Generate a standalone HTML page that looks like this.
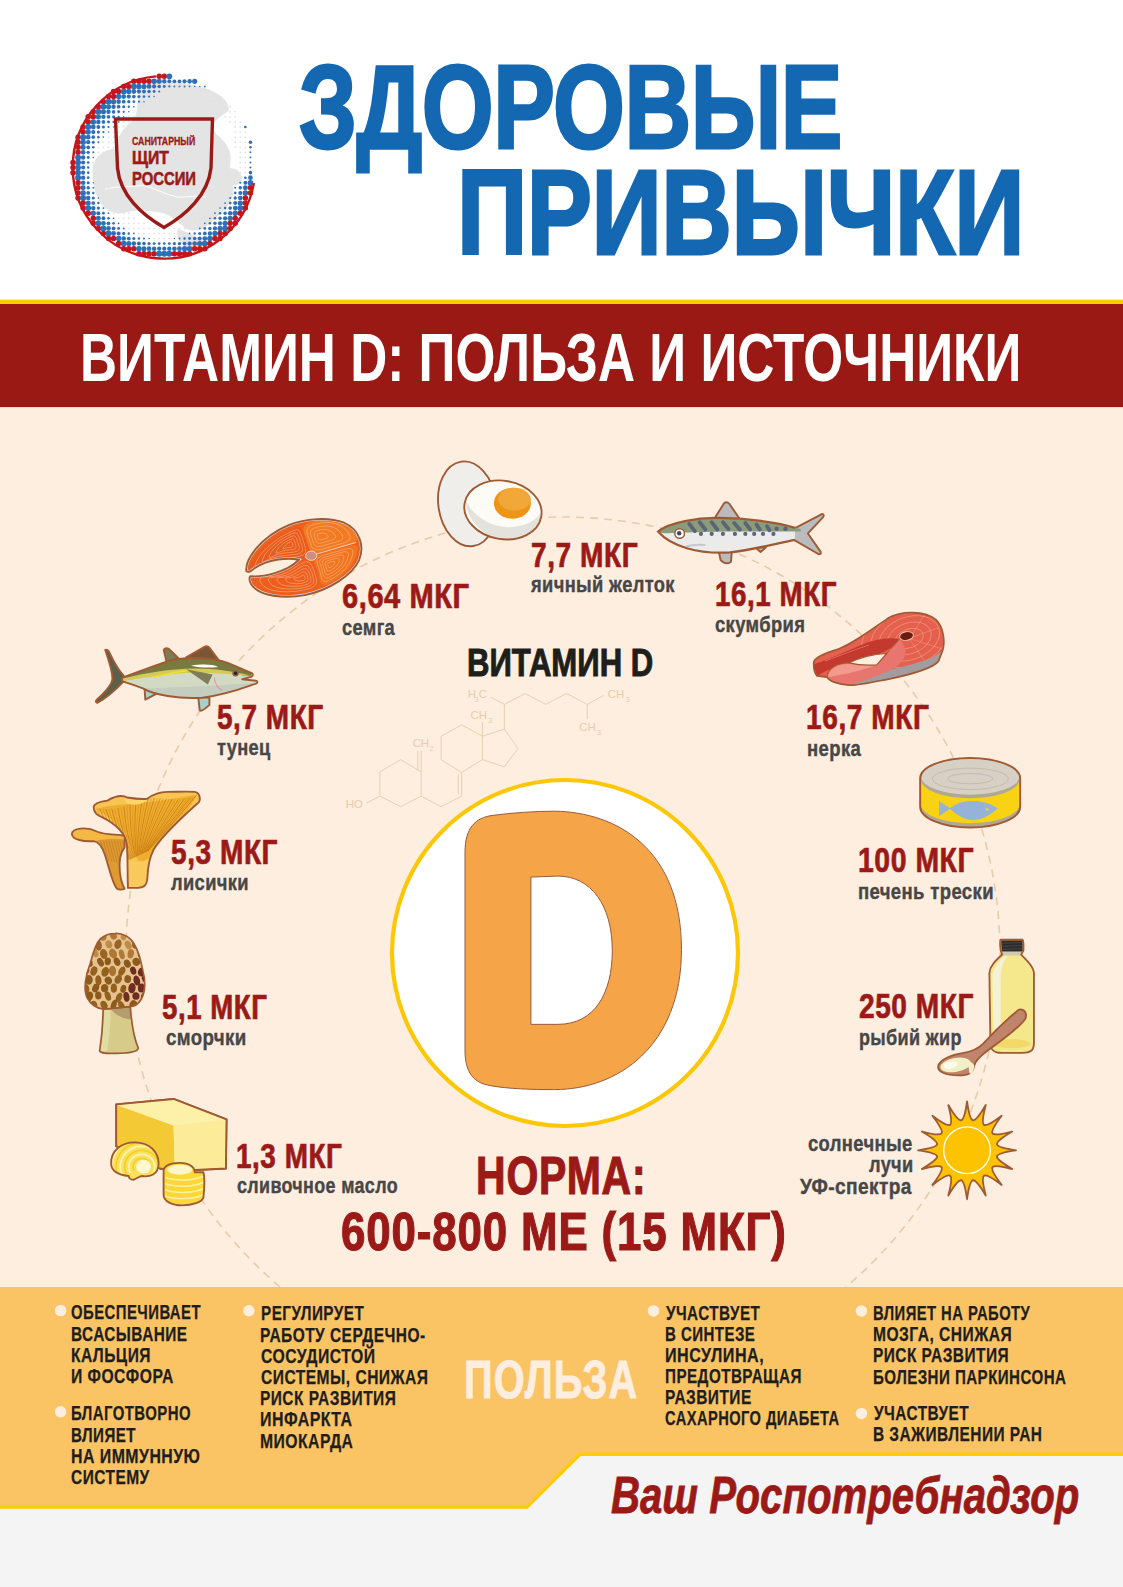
<!DOCTYPE html>
<html><head><meta charset="utf-8"><style>
html,body{margin:0;padding:0;}
body{width:1123px;height:1587px;position:relative;overflow:hidden;background:#ffffff;font-family:"Liberation Sans",sans-serif;}
.t{position:absolute;white-space:pre;transform-origin:0 0;}
svg{position:absolute;left:0;top:0;}
</style></head><body>
<svg width="1123" height="1587" viewBox="0 0 1123 1587">
<rect x="0" y="0" width="1123" height="1587" fill="#f4f4f4"/>
<rect x="0" y="0" width="1123" height="300" fill="#ffffff"/>
<rect x="0" y="299.6" width="1123" height="4.4" fill="#ffcc05"/>
<rect x="0" y="304" width="1123" height="103.3" fill="#9b1915"/>
<rect x="0" y="407.3" width="1123" height="880" fill="#fdeee0"/>
<circle cx="563" cy="954" r="437" fill="none" stroke="#e8cba8" stroke-width="1.6" stroke-dasharray="8 6"/>
<polygon points="0,1287 1123,1287 1123,1454.2 580,1454.2 527,1507 0,1507" fill="#fac364"/>
<polyline points="1123,1454.2 580,1454.2 527,1507 0,1507" fill="none" stroke="#ffcc05" stroke-width="3.5"/>
<circle cx="60.6" cy="1310.6" r="5.75" fill="#fdeee0"/><circle cx="60.6" cy="1411.7" r="5.75" fill="#fdeee0"/><circle cx="248.9" cy="1310.7" r="5.75" fill="#fdeee0"/><circle cx="653.5" cy="1310.9" r="5.75" fill="#fdeee0"/><circle cx="861.4" cy="1311" r="5.75" fill="#fdeee0"/><circle cx="861.4" cy="1413.4" r="5.75" fill="#fdeee0"/>
<circle cx="565" cy="953" r="173" fill="#ffffff" stroke="#fcc707" stroke-width="4.2"/><g transform="translate(380,770) scale(0.32947)"><path fill-rule="evenodd" fill="#f5a447" stroke="#96593a" stroke-width="3" d="M258,250 C258,175 290,145 340,138 C400,130 470,125 530,125 C720,128 915,240 915,545 C915,840 720,970 530,970 C460,970 390,968 335,958 C285,950 258,920 258,850 Z M458,325 L458,772 L540,772 C650,772 705,680 705,548 C705,410 640,322 540,322 Z"/></g><g transform="translate(330,675) scale(0.28495)"><polyline fill="none" stroke="#e7cbab" stroke-width="3.2" stroke-linejoin="round" points="175,340 248,297 320,340 320,425 248,462 175,425 175,340"/><polyline fill="none" stroke="#e7cbab" stroke-width="3.2" stroke-linejoin="round" points="175,425 128,450"/><polyline fill="none" stroke="#e7cbab" stroke-width="3.2" stroke-linejoin="round" points="320,340 320,265"/><polyline fill="none" stroke="#e7cbab" stroke-width="3.2" stroke-linejoin="round" points="308,335 308,265"/><polyline fill="none" stroke="#e7cbab" stroke-width="3.2" stroke-linejoin="round" points="320,425 390,462 462,425 462,342"/><polyline fill="none" stroke="#e7cbab" stroke-width="3.2" stroke-linejoin="round" points="450,420 450,348"/><polyline fill="none" stroke="#e7cbab" stroke-width="3.2" stroke-linejoin="round" points="462,342 390,297 390,215 462,175 535,215 535,297 462,342"/><polyline fill="none" stroke="#e7cbab" stroke-width="3.2" stroke-linejoin="round" points="535,215 612,190 660,258 612,322 535,297"/><polyline fill="none" stroke="#e7cbab" stroke-width="3.2" stroke-linejoin="round" points="535,215 535,165"/><polyline fill="none" stroke="#e7cbab" stroke-width="3.2" stroke-linejoin="round" points="612,190 612,103 565,78"/><polyline fill="none" stroke="#e7cbab" stroke-width="3.2" stroke-linejoin="round" points="612,103 685,65 757,103 830,65 903,103 960,72"/><polyline fill="none" stroke="#e7cbab" stroke-width="3.2" stroke-linejoin="round" points="903,103 903,155"/><text x="55" y="468" font-family="Liberation Sans" font-size="40" fill="#e7cbab">HO</text><text x="290" y="252" font-family="Liberation Sans" font-size="40" fill="#e7cbab">CH</text><text x="350" y="268" font-family="Liberation Sans" font-size="24" fill="#e7cbab">2</text><text x="493" y="155" font-family="Liberation Sans" font-size="40" fill="#e7cbab">CH</text><text x="555" y="170" font-family="Liberation Sans" font-size="24" fill="#e7cbab">3</text><text x="483" y="80" font-family="Liberation Sans" font-size="40" fill="#e7cbab">H</text><text x="508" y="95" font-family="Liberation Sans" font-size="24" fill="#e7cbab">3</text><text x="522" y="80" font-family="Liberation Sans" font-size="40" fill="#e7cbab">C</text><text x="975" y="80" font-family="Liberation Sans" font-size="40" fill="#e7cbab">CH</text><text x="1038" y="95" font-family="Liberation Sans" font-size="24" fill="#e7cbab">3</text><text x="875" y="195" font-family="Liberation Sans" font-size="40" fill="#e7cbab">CH</text><text x="938" y="210" font-family="Liberation Sans" font-size="24" fill="#e7cbab">3</text></g><g transform="translate(910,1095) scale(0.10240)"><path d="M557.0,62.0 Q580.8,237.0 615.1,247.7 Q650.9,250.9 739.9,98.4 Q695.0,269.2 722.6,292.2 Q754.4,308.9 895.0,202.0 Q788.1,342.6 804.8,374.4 Q827.8,402.0 998.6,357.1 Q846.1,446.1 849.3,481.9 Q860.0,516.2 1035.0,540.0 Q860.0,563.8 849.3,598.1 Q846.1,633.9 998.6,722.9 Q827.8,678.0 804.8,705.6 Q788.1,737.4 895.0,878.0 Q754.4,771.1 722.6,787.8 Q695.0,810.8 739.9,981.6 Q650.9,829.1 615.1,832.3 Q580.8,843.0 557.0,1018.0 Q533.2,843.0 498.9,832.3 Q463.1,829.1 374.1,981.6 Q419.0,810.8 391.4,787.8 Q359.6,771.1 219.0,878.0 Q325.9,737.4 309.2,705.6 Q286.2,678.0 115.4,722.9 Q267.9,633.9 264.7,598.1 Q254.0,563.8 79.0,540.0 Q254.0,516.2 264.7,481.9 Q267.9,446.1 115.4,357.1 Q286.2,402.0 309.2,374.4 Q325.9,342.6 219.0,202.0 Q359.6,308.9 391.4,292.2 Q419.0,269.2 374.1,98.4 Q463.1,250.9 498.9,247.7 Q533.2,237.0 557.0,62.0 Z" fill="#fdc300" stroke="#9f5a33" stroke-width="18" stroke-linejoin="round"/><circle cx="557" cy="540" r="228" fill="#fdc300" stroke="#ffffff" stroke-width="13"/></g><g transform="translate(240,510) scale(0.11576)"><clipPath id="semgaclip"><path d="M55,530 C40,430 180,230 420,130 C560,75 760,55 900,110 C1040,170 1075,320 1030,430 C970,560 780,690 560,735 C370,770 180,740 110,660 C80,625 75,585 90,572 C200,580 400,540 510,430 C420,410 250,420 130,500 C100,525 75,545 55,530 Z"/></clipPath><path d="M55,530 C40,430 180,230 420,130 C560,75 760,55 900,110 C1040,170 1075,320 1030,430 C970,560 780,690 560,735 C370,770 180,740 110,660 C80,625 75,585 90,572 C200,580 400,540 510,430 C420,410 250,420 130,500 C100,525 75,545 55,530 Z" fill="#ee611d"/><g clip-path="url(#semgaclip)"><path d="M95.0,520.0 Q60.0,540.0 80.0,485.0 Q100.0,430.0 150.0,375.0 Q200.0,320.0 265.0,270.0 Q330.0,220.0 400.0,185.0 Q470.0,150.0 500.0,145.0 Q530.0,140.0 550.0,200.0 Q570.0,260.0 590.0,325.0 Q610.0,390.0 560.0,411.0 Q510.0,432.0 405.0,436.0 Q300.0,440.0 215.0,470.0 Q130.0,500.0 95.0,520.0 Z" fill="#ec5a1b"/><path d="M150.8,483.3 Q121.7,500.0 138.3,454.2 Q155.0,408.3 196.7,362.5 Q238.3,316.7 292.5,275.0 Q346.7,233.3 405.0,204.2 Q463.3,175.0 488.3,170.8 Q513.3,166.7 530.0,216.7 Q546.7,266.7 563.3,320.8 Q580.0,375.0 538.3,392.5 Q496.7,410.0 409.2,413.3 Q321.7,416.7 250.8,441.7 Q180.0,466.7 150.8,483.3 Z" fill="none" stroke="#fbcaa3" stroke-width="4.5" opacity="0.9"/><path d="M206.7,446.7 Q183.3,460.0 196.7,423.3 Q210.0,386.7 243.3,350.0 Q276.7,313.3 320.0,280.0 Q363.3,246.7 410.0,223.3 Q456.7,200.0 476.7,196.7 Q496.7,193.3 510.0,233.3 Q523.3,273.3 536.7,316.7 Q550.0,360.0 516.7,374.0 Q483.3,388.0 413.3,390.7 Q343.3,393.3 286.7,413.3 Q230.0,433.3 206.7,446.7 Z" fill="none" stroke="#fbcaa3" stroke-width="4.5" opacity="0.9"/><path d="M262.5,410.0 Q245.0,420.0 255.0,392.5 Q265.0,365.0 290.0,337.5 Q315.0,310.0 347.5,285.0 Q380.0,260.0 415.0,242.5 Q450.0,225.0 465.0,222.5 Q480.0,220.0 490.0,250.0 Q500.0,280.0 510.0,312.5 Q520.0,345.0 495.0,355.5 Q470.0,366.0 417.5,368.0 Q365.0,370.0 322.5,385.0 Q280.0,400.0 262.5,410.0 Z" fill="none" stroke="#fbcaa3" stroke-width="4.5" opacity="0.9"/><path d="M318.3,373.3 Q306.7,380.0 313.3,361.7 Q320.0,343.3 336.7,325.0 Q353.3,306.7 375.0,290.0 Q396.7,273.3 420.0,261.7 Q443.3,250.0 453.3,248.3 Q463.3,246.7 470.0,266.7 Q476.7,286.7 483.3,308.3 Q490.0,330.0 473.3,337.0 Q456.7,344.0 421.7,345.3 Q386.7,346.7 358.3,356.7 Q330.0,366.7 318.3,373.3 Z" fill="none" stroke="#fbcaa3" stroke-width="4.5" opacity="0.9"/><path d="M374.2,336.7 Q368.3,340.0 371.7,330.8 Q375.0,321.7 383.3,312.5 Q391.7,303.3 402.5,295.0 Q413.3,286.7 425.0,280.8 Q436.7,275.0 441.7,274.2 Q446.7,273.3 450.0,283.3 Q453.3,293.3 456.7,304.2 Q460.0,315.0 451.7,318.5 Q443.3,322.0 425.8,322.7 Q408.3,323.3 394.2,328.3 Q380.0,333.3 374.2,336.7 Z" fill="none" stroke="#fbcaa3" stroke-width="4.5" opacity="0.9"/><path d="M552.5,202.5 Q530.0,140.0 590.0,112.5 Q650.0,85.0 725.0,77.5 Q800.0,70.0 865.0,92.5 Q930.0,115.0 970.0,157.5 Q1010.0,200.0 1015.0,240.0 Q1020.0,280.0 910.0,310.0 Q800.0,340.0 707.5,366.0 Q615.0,392.0 595.0,328.5 Q575.0,265.0 552.5,202.5 Z" fill="#f27a23"/><path d="M582.0,208.0 Q564.0,158.0 612.0,136.0 Q660.0,114.0 720.0,108.0 Q780.0,102.0 832.0,120.0 Q884.0,138.0 916.0,172.0 Q948.0,206.0 952.0,238.0 Q956.0,270.0 868.0,294.0 Q780.0,318.0 706.0,338.8 Q632.0,359.6 616.0,308.8 Q600.0,258.0 582.0,208.0 Z" fill="none" stroke="#fbcaa3" stroke-width="4.5" opacity="0.9"/><path d="M611.5,213.5 Q598.0,176.0 634.0,159.5 Q670.0,143.0 715.0,138.5 Q760.0,134.0 799.0,147.5 Q838.0,161.0 862.0,186.5 Q886.0,212.0 889.0,236.0 Q892.0,260.0 826.0,278.0 Q760.0,296.0 704.5,311.6 Q649.0,327.2 637.0,289.1 Q625.0,251.0 611.5,213.5 Z" fill="none" stroke="#fbcaa3" stroke-width="4.5" opacity="0.9"/><path d="M641.0,219.0 Q632.0,194.0 656.0,183.0 Q680.0,172.0 710.0,169.0 Q740.0,166.0 766.0,175.0 Q792.0,184.0 808.0,201.0 Q824.0,218.0 826.0,234.0 Q828.0,250.0 784.0,262.0 Q740.0,274.0 703.0,284.4 Q666.0,294.8 658.0,269.4 Q650.0,244.0 641.0,219.0 Z" fill="none" stroke="#fbcaa3" stroke-width="4.5" opacity="0.9"/><path d="M670.5,224.5 Q666.0,212.0 678.0,206.5 Q690.0,201.0 705.0,199.5 Q720.0,198.0 733.0,202.5 Q746.0,207.0 754.0,215.5 Q762.0,224.0 763.0,232.0 Q764.0,240.0 742.0,246.0 Q720.0,252.0 701.5,257.2 Q683.0,262.4 679.0,249.7 Q675.0,237.0 670.5,224.5 Z" fill="none" stroke="#fbcaa3" stroke-width="4.5" opacity="0.9"/><path d="M645.0,460.0 Q620.0,400.0 720.0,372.5 Q820.0,345.0 920.0,315.0 Q1020.0,285.0 1015.0,342.5 Q1010.0,400.0 975.0,460.0 Q940.0,520.0 880.0,565.0 Q820.0,610.0 760.0,640.0 Q700.0,670.0 685.0,595.0 Q670.0,520.0 645.0,460.0 Z" fill="#f2741f"/><path d="M667.5,461.7 Q646.7,411.7 730.0,388.8 Q813.3,365.8 896.7,340.8 Q980.0,315.8 975.8,363.8 Q971.7,411.7 942.5,461.7 Q913.3,511.7 863.3,549.2 Q813.3,586.7 763.3,611.7 Q713.3,636.7 700.8,574.2 Q688.3,511.7 667.5,461.7 Z" fill="none" stroke="#fbcaa3" stroke-width="4.5" opacity="0.9"/><path d="M690.0,463.3 Q673.3,423.3 740.0,405.0 Q806.7,386.7 873.3,366.7 Q940.0,346.7 936.7,385.0 Q933.3,423.3 910.0,463.3 Q886.7,503.3 846.7,533.3 Q806.7,563.3 766.7,583.3 Q726.7,603.3 716.7,553.3 Q706.7,503.3 690.0,463.3 Z" fill="none" stroke="#fbcaa3" stroke-width="4.5" opacity="0.9"/><path d="M712.5,465.0 Q700.0,435.0 750.0,421.2 Q800.0,407.5 850.0,392.5 Q900.0,377.5 897.5,406.2 Q895.0,435.0 877.5,465.0 Q860.0,495.0 830.0,517.5 Q800.0,540.0 770.0,555.0 Q740.0,570.0 732.5,532.5 Q725.0,495.0 712.5,465.0 Z" fill="none" stroke="#fbcaa3" stroke-width="4.5" opacity="0.9"/><path d="M735.0,466.7 Q726.7,446.7 760.0,437.5 Q793.3,428.3 826.7,418.3 Q860.0,408.3 858.3,427.5 Q856.7,446.7 845.0,466.7 Q833.3,486.7 813.3,501.7 Q793.3,516.7 773.3,526.7 Q753.3,536.7 748.3,511.7 Q743.3,486.7 735.0,466.7 Z" fill="none" stroke="#fbcaa3" stroke-width="4.5" opacity="0.9"/><path d="M757.5,468.3 Q753.3,458.3 770.0,453.8 Q786.7,449.2 803.3,444.2 Q820.0,439.2 819.2,448.8 Q818.3,458.3 812.5,468.3 Q806.7,478.3 796.7,485.8 Q786.7,493.3 776.7,498.3 Q766.7,503.3 764.2,490.8 Q761.7,478.3 757.5,468.3 Z" fill="none" stroke="#fbcaa3" stroke-width="4.5" opacity="0.9"/><path d="M97.5,612.5 Q90.0,575.0 170.0,575.0 Q250.0,575.0 325.0,550.0 Q400.0,525.0 457.5,482.5 Q515.0,440.0 563.5,422.5 Q612.0,405.0 638.5,462.5 Q665.0,520.0 682.5,592.5 Q700.0,665.0 630.0,690.0 Q560.0,715.0 470.0,725.0 Q380.0,735.0 290.0,725.0 Q200.0,715.0 152.5,682.5 Q105.0,650.0 97.5,612.5 Z" fill="#ee5e1c"/><path d="M171.2,608.8 Q165.0,577.5 231.7,577.5 Q298.3,577.5 360.8,556.7 Q423.3,535.8 471.2,500.4 Q519.2,465.0 559.6,450.4 Q600.0,435.8 622.1,483.8 Q644.2,531.7 658.8,592.1 Q673.3,652.5 615.0,673.3 Q556.7,694.2 481.7,702.5 Q406.7,710.8 331.7,702.5 Q256.7,694.2 217.1,667.1 Q177.5,640.0 171.2,608.8 Z" fill="none" stroke="#fbcaa3" stroke-width="4.5" opacity="0.9"/><path d="M245.0,605.0 Q240.0,580.0 293.3,580.0 Q346.7,580.0 396.7,563.3 Q446.7,546.7 485.0,518.3 Q523.3,490.0 555.7,478.3 Q588.0,466.7 605.7,505.0 Q623.3,543.3 635.0,591.7 Q646.7,640.0 600.0,656.7 Q553.3,673.3 493.3,680.0 Q433.3,686.7 373.3,680.0 Q313.3,673.3 281.7,651.7 Q250.0,630.0 245.0,605.0 Z" fill="none" stroke="#fbcaa3" stroke-width="4.5" opacity="0.9"/><path d="M318.8,601.2 Q315.0,582.5 355.0,582.5 Q395.0,582.5 432.5,570.0 Q470.0,557.5 498.8,536.2 Q527.5,515.0 551.8,506.2 Q576.0,497.5 589.2,526.2 Q602.5,555.0 611.2,591.2 Q620.0,627.5 585.0,640.0 Q550.0,652.5 505.0,657.5 Q460.0,662.5 415.0,657.5 Q370.0,652.5 346.2,636.2 Q322.5,620.0 318.8,601.2 Z" fill="none" stroke="#fbcaa3" stroke-width="4.5" opacity="0.9"/><path d="M392.5,597.5 Q390.0,585.0 416.7,585.0 Q443.3,585.0 468.3,576.7 Q493.3,568.3 512.5,554.2 Q531.7,540.0 547.8,534.2 Q564.0,528.3 572.8,547.5 Q581.7,566.7 587.5,590.8 Q593.3,615.0 570.0,623.3 Q546.7,631.7 516.7,635.0 Q486.7,638.3 456.7,635.0 Q426.7,631.7 410.8,620.8 Q395.0,610.0 392.5,597.5 Z" fill="none" stroke="#fbcaa3" stroke-width="4.5" opacity="0.9"/><path d="M466.2,593.8 Q465.0,587.5 478.3,587.5 Q491.7,587.5 504.2,583.3 Q516.7,579.2 526.2,572.1 Q535.8,565.0 543.9,562.1 Q552.0,559.2 556.4,568.8 Q560.8,578.3 563.8,590.4 Q566.7,602.5 555.0,606.7 Q543.3,610.8 528.3,612.5 Q513.3,614.2 498.3,612.5 Q483.3,610.8 475.4,605.4 Q467.5,600.0 466.2,593.8 Z" fill="none" stroke="#fbcaa3" stroke-width="4.5" opacity="0.9"/></g><path d="M560,410 L1000,280" stroke="#f9cbb8" stroke-width="9"/><ellipse cx="615" cy="395" rx="48" ry="40" fill="#cf8f80" stroke="#f9d9c8" stroke-width="8"/><path d="M55,530 C40,430 180,230 420,130 C560,75 760,55 900,110 C1040,170 1075,320 1030,430 C970,560 780,690 560,735 C370,770 180,740 110,660 C80,625 75,585 90,572 C200,580 400,540 510,430 C420,410 250,420 130,500 C100,525 75,545 55,530 Z" fill="none" stroke="#d3dbe6" stroke-width="26" clip-path="url(#semgaclip)"/><path d="M55,530 C40,430 180,230 420,130 C560,75 760,55 900,110 C1040,170 1075,320 1030,430 C970,560 780,690 560,735 C370,770 180,740 110,660 C80,625 75,585 90,572 C200,580 400,540 510,430 C420,410 250,420 130,500 C100,525 75,545 55,530 Z" fill="none" stroke="#9f5a33" stroke-width="16" stroke-linejoin="round"/></g><g transform="translate(430,450) scale(0.11576)"><ellipse cx="322" cy="465" rx="250" ry="368" transform="rotate(-8 322 465)" fill="#efeeea" stroke="#9f5a33" stroke-width="16"/><ellipse cx="630" cy="518" rx="336" ry="252" transform="rotate(10 630 518)" fill="#fdfbf5"/><path d="M300,420 C360,560 520,680 720,665 C830,655 920,610 955,540 C960,620 880,760 690,775 C500,780 330,650 300,420 Z" fill="#e4e2dc"/><ellipse cx="630" cy="518" rx="336" ry="252" transform="rotate(10 630 518)" fill="none" stroke="#9f5a33" stroke-width="16"/><ellipse cx="712" cy="460" rx="160" ry="133" fill="#ec9516"/><ellipse cx="730" cy="425" rx="140" ry="98" fill="#f1a838"/></g><g transform="translate(650,495) scale(0.16028)"><path d="M890,215 L1075,118 Q1090,122 1080,138 L985,240 L1065,355 Q1070,372 1050,368 L890,275 Z" fill="#b9bbbf" stroke="#9f5a33" stroke-width="12" stroke-linejoin="round"/><path d="M400,150 L462,52 Q478,38 495,55 L560,150 Z" fill="#b9bbbf" stroke="#9f5a33" stroke-width="12" stroke-linejoin="round"/><path d="M430,355 L440,405 Q470,440 505,418 L510,355 Z" fill="#b9bbbf" stroke="#9f5a33" stroke-width="12" stroke-linejoin="round"/><path d="M660,330 L690,356 L725,325 Z" fill="#b9bbbf" stroke="#9f5a33" stroke-width="12" stroke-linejoin="round"/><path d="M50,228 C120,170 300,140 430,143 C600,145 800,170 905,205 L905,280 C800,300 650,340 500,358 C300,370 130,320 50,228 Z" fill="#ebebec"/><path d="M55,225 C120,172 300,143 430,146 C600,148 800,172 940,212 L940,228 C700,228 400,226 160,236 C110,240 80,240 55,232 Z" fill="#8c9c7b"/><line x1="245" y1="180" x2="280" y2="225" stroke="#5a6678" stroke-width="24" stroke-linecap="round"/><line x1="310" y1="170" x2="345" y2="215" stroke="#5a6678" stroke-width="24" stroke-linecap="round"/><line x1="385" y1="170" x2="420" y2="215" stroke="#5a6678" stroke-width="24" stroke-linecap="round"/><line x1="455" y1="170" x2="490" y2="212" stroke="#5a6678" stroke-width="24" stroke-linecap="round"/><line x1="525" y1="175" x2="560" y2="215" stroke="#5a6678" stroke-width="24" stroke-linecap="round"/><line x1="595" y1="175" x2="625" y2="215" stroke="#5a6678" stroke-width="24" stroke-linecap="round"/><line x1="665" y1="185" x2="685" y2="215" stroke="#5a6678" stroke-width="24" stroke-linecap="round"/><line x1="730" y1="195" x2="745" y2="220" stroke="#5a6678" stroke-width="24" stroke-linecap="round"/><circle cx="790" cy="210" r="14" fill="#5a6678"/><circle cx="845" cy="210" r="14" fill="#5a6678"/><circle cx="318" cy="243" r="13" fill="#5a6678"/><circle cx="385" cy="243" r="13" fill="#5a6678"/><circle cx="455" cy="243" r="13" fill="#5a6678"/><circle cx="530" cy="243" r="13" fill="#5a6678"/><circle cx="595" cy="243" r="13" fill="#5a6678"/><circle cx="650" cy="243" r="13" fill="#5a6678"/><circle cx="705" cy="243" r="13" fill="#5a6678"/><circle cx="770" cy="243" r="13" fill="#5a6678"/><path d="M230,320 C260,312 300,308 340,312" stroke="#c3c7cf" stroke-width="12" fill="none" stroke-linecap="round"/><path d="M905,280 C800,300 650,340 500,358 C300,370 130,320 50,228 C120,170 300,140 430,143 C600,145 800,170 905,205" fill="none" stroke="#9f5a33" stroke-width="14"/><circle cx="185" cy="240" r="30" fill="#ffffff" stroke="#9f5a33" stroke-width="9"/><circle cx="182" cy="238" r="14" fill="#3e4a5e"/></g><g transform="translate(805,605) scale(0.13357)"><clipPath id="nerkaclip"><path d="M65,440 C60,400 120,370 220,340 C350,300 500,180 620,100 C720,40 900,40 980,110 C1040,170 1050,280 1030,340 L1000,420 C960,470 800,520 600,560 C450,590 380,605 330,600 C250,595 180,570 165,540 L90,530 C70,510 65,470 65,440 Z"/></clipPath><path d="M65,440 C60,400 120,370 220,340 C350,300 500,180 620,100 C720,40 900,40 980,110 C1040,170 1050,280 1030,340 L1000,420 C960,470 800,520 600,560 C450,590 380,605 330,600 C250,595 180,570 165,540 L90,530 C70,510 65,470 65,440 Z" fill="#e5604e"/><g clip-path="url(#nerkaclip)"><ellipse cx="780" cy="250" rx="110" ry="70" transform="rotate(-20 780 250)" fill="none" stroke="#f7c3a4" stroke-width="4" opacity="0.75"/><ellipse cx="780" cy="250" rx="170" ry="115" transform="rotate(-20 780 250)" fill="none" stroke="#f7c3a4" stroke-width="4" opacity="0.75"/><ellipse cx="780" cy="250" rx="235" ry="160" transform="rotate(-20 780 250)" fill="none" stroke="#f7c3a4" stroke-width="4" opacity="0.75"/><ellipse cx="780" cy="250" rx="300" ry="205" transform="rotate(-20 780 250)" fill="none" stroke="#f7c3a4" stroke-width="4" opacity="0.75"/><ellipse cx="780" cy="250" rx="370" ry="250" transform="rotate(-20 780 250)" fill="none" stroke="#f7c3a4" stroke-width="4" opacity="0.75"/><path d="M780,250 L900,70" stroke="#f7c3a4" stroke-width="4" opacity="0.6"/><path d="M780,250 L1000,170" stroke="#f7c3a4" stroke-width="4" opacity="0.6"/><path d="M780,250 L1030,330" stroke="#f7c3a4" stroke-width="4" opacity="0.6"/><path d="M780,250 L930,470" stroke="#f7c3a4" stroke-width="4" opacity="0.6"/><path d="M330,600 C450,590 600,560 800,515 C900,490 980,455 1000,420 L1035,330 C990,390 900,420 700,470 C550,505 420,545 330,600 Z" fill="#a39c9e"/><path d="M60,445 C140,425 300,352 420,300 C520,258 620,240 705,255 C660,320 600,355 540,368 C470,385 400,405 330,432 C250,455 170,480 90,532 Z" fill="#c4392d"/><path d="M150,420 C260,380 380,330 480,300" stroke="#f29683" stroke-width="5" fill="none" opacity="0.8"/><path d="M165,542 C170,470 240,432 330,434 L535,449 C580,420 640,330 705,258 C760,300 775,380 705,445 C640,500 500,545 330,602 C250,597 180,572 165,542 Z" fill="#e8756e"/><path d="M172,535 C185,475 250,442 330,442 L520,455 C440,485 300,520 172,540 Z" fill="#f39a8d"/></g><path d="M330,433 C420,388 520,368 612,362 L537,449 C450,454 380,446 330,433 Z" fill="#fdeee0" stroke="#9f5a33" stroke-width="9" stroke-linejoin="round"/><path d="M165,542 C170,470 240,432 330,434" fill="none" stroke="#9f5a33" stroke-width="7"/><path d="M612,362 C640,330 680,290 705,258" fill="none" stroke="#9f5a33" stroke-width="6"/><ellipse cx="760" cy="232" rx="52" ry="32" transform="rotate(-10 760 232)" fill="#6b1a14" stroke="#f6c7a6" stroke-width="7"/><path d="M65,440 C60,400 120,370 220,340 C350,300 500,180 620,100 C720,40 900,40 980,110 C1040,170 1050,280 1030,340 L1000,420 C960,470 800,520 600,560 C450,590 380,605 330,600 C250,595 180,570 165,540 L90,530 C70,510 65,470 65,440 Z" fill="none" stroke="#9f5a33" stroke-width="13" stroke-linejoin="round"/></g><g transform="translate(90,640) scale(0.16028)"><path d="M95,62 Q112,58 122,80 C150,140 180,190 210,222 L210,258 C170,300 110,360 45,392 Q28,385 45,370 C100,320 140,270 140,240 C140,190 115,120 95,62 Z" fill="#5b6148" stroke="#9f5a33" stroke-width="12" stroke-linejoin="round"/><path d="M460,62 Q470,45 492,56 L552,114 L478,138 Z" fill="#7b7d55" stroke="#9f5a33" stroke-width="12" stroke-linejoin="round"/><path d="M600,108 L720,40 Q737,34 748,52 L805,128 Z" fill="#7a5634" stroke="#9f5a33" stroke-width="12" stroke-linejoin="round"/><path d="M340,298 L345,372 L425,330 Z" fill="#a9cfc8" stroke="#9f5a33" stroke-width="12" stroke-linejoin="round"/><path d="M675,355 L685,440 Q700,448 745,405 L745,360 Z" fill="#a9cfc8" stroke="#9f5a33" stroke-width="12" stroke-linejoin="round"/><path d="M200,235 C300,200 420,150 520,122 C650,102 800,112 900,160 L1012,208 Q1022,220 1005,230 L950,245 L1040,255 Q1050,266 1035,272 C950,302 850,342 700,360 C550,370 400,342 330,302 C280,282 230,267 200,257 Z" fill="#d3dac4"/><path d="M330,302 C450,300 600,290 750,285 C850,282 950,270 1035,270 C950,302 850,342 700,360 C550,370 400,342 330,302 Z" fill="#c5cdbe"/><path d="M200,235 C300,200 420,150 520,122 C650,102 800,112 900,160 L1012,208 L1000,225 C900,215 800,200 680,195 C500,190 330,220 200,252 Z" fill="#7a7a3f"/><path d="M205,240 C350,205 500,180 650,178 C780,178 900,195 1000,222 C900,218 780,205 650,205 C500,205 350,235 205,258 Z" fill="#d6c95a"/><path d="M400,232 C460,215 540,200 600,192" stroke="#f2e21a" stroke-width="10" fill="none" stroke-linecap="round"/><path d="M630,160 C700,150 760,150 800,168 C740,176 680,172 630,160 Z" fill="#ffffff"/><path d="M600,182 L765,215 L735,278 Z" fill="#7d7d59"/><path d="M775,235 Q780,290 825,315" stroke="#e89a92" stroke-width="7" fill="none"/><path d="M200,235 C300,200 420,150 520,122 C650,102 800,112 900,160 L1012,208 Q1022,220 1005,230 L950,245 L1040,255 Q1050,266 1035,272 C950,302 850,342 700,360 C550,370 400,342 330,302 C280,282 230,267 200,257 Z" fill="none" stroke="#9f5a33" stroke-width="12" stroke-linejoin="round"/><circle cx="908" cy="208" r="20" fill="#a25a3a"/><circle cx="908" cy="208" r="11" fill="#1f2633"/></g><g transform="translate(910,750) scale(0.10686)"><ellipse cx="563" cy="530" rx="467" ry="195" fill="#b0a897"/><path d="M100,270 L100,505 A463,180 0 0 0 1026,505 L1026,270 Z" fill="#f9d213"/><ellipse cx="563" cy="272" rx="463" ry="180" fill="#b0a897"/><ellipse cx="563" cy="248" rx="460" ry="170" fill="#d7d0c4"/><ellipse cx="565" cy="270" rx="355" ry="100" fill="none" stroke="#b3a892" stroke-width="5"/><ellipse cx="563" cy="268" rx="210" ry="48" fill="none" stroke="#b3a892" stroke-width="5"/><path d="M372,548 C430,500 500,478 590,478 C700,478 780,520 822,548 C780,580 700,655 590,655 C500,655 430,600 372,548 Z" fill="#95b2d8"/><path d="M272,478 L380,548 L272,618 Z" fill="#95b2d8"/><circle cx="722" cy="555" r="13" fill="#f9d213"/><path d="M95,265 A468,190 0 0 1 1031,265 L1031,530 A468,195 0 0 1 95,530 Z" fill="none" stroke="#9f5a33" stroke-width="18"/></g><g transform="translate(65,785) scale(0.12467)"><clipPath id="chsmall"><path d="M55,395 C55,345 170,330 260,375 C320,400 420,395 480,408 L478,500 C445,540 432,620 440,700 C447,760 465,810 478,832 C462,842 430,842 415,830 C380,790 350,650 320,560 C300,500 270,455 230,450 C150,455 60,440 55,395 Z"/></clipPath><path d="M55,395 C55,345 170,330 260,375 C320,400 420,395 480,408 L478,500 C445,540 432,620 440,700 C447,760 465,810 478,832 C462,842 430,842 415,830 C380,790 350,650 320,560 C300,500 270,455 230,450 C150,455 60,440 55,395 Z" fill="#f5b842"/><g clip-path="url(#chsmall)"><path d="M250,445 C330,430 420,425 484,440 L478,500 C445,540 432,620 440,700 C447,760 465,810 478,832 C462,842 430,842 415,830 C380,790 350,650 320,560 C300,500 280,465 250,445 Z" fill="#df9a32"/><path d="M285,445 C300,500 315,560 330,600" stroke="#a8661a" stroke-width="5" fill="none" opacity="0.65"/><path d="M307,445 C322,500 337,560 352,606" stroke="#a8661a" stroke-width="5" fill="none" opacity="0.65"/><path d="M329,445 C344,500 359,560 374,612" stroke="#a8661a" stroke-width="5" fill="none" opacity="0.65"/><path d="M351,445 C366,500 381,560 396,618" stroke="#a8661a" stroke-width="5" fill="none" opacity="0.65"/><path d="M373,445 C388,500 403,560 418,624" stroke="#a8661a" stroke-width="5" fill="none" opacity="0.65"/><path d="M395,445 C410,500 425,560 440,630" stroke="#a8661a" stroke-width="5" fill="none" opacity="0.65"/><path d="M417,445 C432,500 447,560 462,636" stroke="#a8661a" stroke-width="5" fill="none" opacity="0.65"/><path d="M439,445 C454,500 469,560 484,642" stroke="#a8661a" stroke-width="5" fill="none" opacity="0.65"/><path d="M461,445 C476,500 491,560 506,648" stroke="#a8661a" stroke-width="5" fill="none" opacity="0.65"/></g><path d="M55,395 C55,345 170,330 260,375 C320,400 420,395 480,408 L478,500 C445,540 432,620 440,700 C447,760 465,810 478,832 C462,842 430,842 415,830 C380,790 350,650 320,560 C300,500 270,455 230,450 C150,455 60,440 55,395 Z" fill="none" stroke="#9f5a33" stroke-width="15" stroke-linejoin="round"/><clipPath id="chbig"><path d="M230,180 C230,140 300,130 340,125 C400,90 460,80 500,100 C560,110 620,115 660,110 C700,80 760,55 820,55 C900,55 980,50 1040,55 C1090,65 1092,130 1060,150 C950,250 780,400 710,520 C680,580 665,650 662,730 C660,800 640,830 570,825 L505,825 C500,700 505,560 495,470 C480,380 400,310 300,260 C250,240 230,215 230,180 Z"/></clipPath><path d="M230,180 C230,140 300,130 340,125 C400,90 460,80 500,100 C560,110 620,115 660,110 C700,80 760,55 820,55 C900,55 980,50 1040,55 C1090,65 1092,130 1060,150 C950,250 780,400 710,520 C680,580 665,650 662,730 C660,800 640,830 570,825 L505,825 C500,700 505,560 495,470 C480,380 400,310 300,260 C250,240 230,215 230,180 Z" fill="#f8c553"/><g clip-path="url(#chbig)"><path d="M250,190 C400,150 600,150 800,120 C900,105 1000,85 1055,80 C1000,200 850,380 720,540 C690,590 640,620 590,610 C560,560 520,470 480,390 C420,310 330,240 250,190 Z" fill="#f0ae30"/><path d="M255,190 Q345,405 515,600" stroke="#d98c16" stroke-width="6" fill="none" opacity="0.85"/><path d="M279,192 Q361,405 520,598" stroke="#b86e10" stroke-width="6" fill="none" opacity="0.85"/><path d="M303,193 Q376,405 524,596" stroke="#d98c16" stroke-width="6" fill="none" opacity="0.85"/><path d="M328,194 Q392,404 529,594" stroke="#b86e10" stroke-width="6" fill="none" opacity="0.85"/><path d="M352,194 Q407,403 533,592" stroke="#d98c16" stroke-width="6" fill="none" opacity="0.85"/><path d="M376,192 Q423,401 538,589" stroke="#b86e10" stroke-width="6" fill="none" opacity="0.85"/><path d="M400,189 Q439,398 542,587" stroke="#d98c16" stroke-width="6" fill="none" opacity="0.85"/><path d="M425,184 Q454,395 547,585" stroke="#b86e10" stroke-width="6" fill="none" opacity="0.85"/><path d="M449,179 Q470,391 551,583" stroke="#d98c16" stroke-width="6" fill="none" opacity="0.85"/><path d="M473,171 Q485,386 556,581" stroke="#b86e10" stroke-width="6" fill="none" opacity="0.85"/><path d="M497,163 Q501,381 560,579" stroke="#d98c16" stroke-width="6" fill="none" opacity="0.85"/><path d="M522,154 Q517,376 565,577" stroke="#b86e10" stroke-width="6" fill="none" opacity="0.85"/><path d="M546,146 Q532,370 570,575" stroke="#d98c16" stroke-width="6" fill="none" opacity="0.85"/><path d="M570,137 Q548,365 574,572" stroke="#b86e10" stroke-width="6" fill="none" opacity="0.85"/><path d="M594,129 Q563,359 579,570" stroke="#d98c16" stroke-width="6" fill="none" opacity="0.85"/><path d="M619,121 Q579,355 583,568" stroke="#b86e10" stroke-width="6" fill="none" opacity="0.85"/><path d="M643,115 Q595,351 588,566" stroke="#d98c16" stroke-width="6" fill="none" opacity="0.85"/><path d="M667,111 Q610,347 592,564" stroke="#b86e10" stroke-width="6" fill="none" opacity="0.85"/><path d="M691,108 Q626,345 597,562" stroke="#d98c16" stroke-width="6" fill="none" opacity="0.85"/><path d="M716,106 Q642,343 601,560" stroke="#b86e10" stroke-width="6" fill="none" opacity="0.85"/><path d="M740,106 Q657,342 606,558" stroke="#d98c16" stroke-width="6" fill="none" opacity="0.85"/><path d="M764,106 Q673,341 610,555" stroke="#b86e10" stroke-width="6" fill="none" opacity="0.85"/><path d="M788,108 Q688,341 615,553" stroke="#d98c16" stroke-width="6" fill="none" opacity="0.85"/><path d="M813,110 Q704,340 620,551" stroke="#b86e10" stroke-width="6" fill="none" opacity="0.85"/><path d="M837,112 Q720,340 624,549" stroke="#d98c16" stroke-width="6" fill="none" opacity="0.85"/><path d="M861,113 Q735,340 629,547" stroke="#b86e10" stroke-width="6" fill="none" opacity="0.85"/><path d="M885,114 Q751,339 633,545" stroke="#d98c16" stroke-width="6" fill="none" opacity="0.85"/><path d="M910,114 Q766,338 638,543" stroke="#b86e10" stroke-width="6" fill="none" opacity="0.85"/><path d="M934,112 Q782,336 642,541" stroke="#d98c16" stroke-width="6" fill="none" opacity="0.85"/><path d="M958,109 Q798,334 647,538" stroke="#b86e10" stroke-width="6" fill="none" opacity="0.85"/><path d="M982,104 Q813,330 651,536" stroke="#d98c16" stroke-width="6" fill="none" opacity="0.85"/><path d="M1007,98 Q829,326 656,534" stroke="#b86e10" stroke-width="6" fill="none" opacity="0.85"/><path d="M1031,91 Q844,322 660,532" stroke="#d98c16" stroke-width="6" fill="none" opacity="0.85"/><path d="M1055,83 Q860,317 665,530" stroke="#b86e10" stroke-width="6" fill="none" opacity="0.85"/></g><path d="M500,100 C560,110 620,118 670,110 C640,150 570,165 520,155 C480,140 470,115 500,100 Z" fill="#fbd46b"/><path d="M505,600 C560,620 620,620 680,600 C665,650 662,700 662,730 C660,800 640,830 570,825 L505,825 C502,750 503,680 505,600 Z" fill="#fac95c"/><path d="M230,180 C230,140 300,130 340,125 C400,90 460,80 500,100 C560,110 620,115 660,110 C700,80 760,55 820,55 C900,55 980,50 1040,55 C1090,65 1092,130 1060,150 C950,250 780,400 710,520 C680,580 665,650 662,730 C660,800 640,830 570,825 L505,825 C500,700 505,560 495,470 C480,380 400,310 300,260 C250,240 230,215 230,180 Z" fill="none" stroke="#9f5a33" stroke-width="15" stroke-linejoin="round"/></g><g transform="translate(75,925) scale(0.08507)"><path d="M330,985 L650,960 C660,1100 680,1300 745,1450 C730,1500 600,1510 480,1510 C380,1510 300,1510 290,1480 C310,1350 330,1150 330,985 Z" fill="#d6cb88"/><path d="M345,1000 L420,995 C420,1150 400,1350 380,1480 L300,1480 C320,1350 340,1150 345,1000 Z" fill="#e1dca2"/><path d="M340,985 L650,960 L655,1110 C560,1100 480,1060 430,1000 Z" fill="#b39d6c"/><path d="M330,985 L650,960 C660,1100 680,1300 745,1450 C730,1500 600,1510 480,1510 C380,1510 300,1510 290,1480 C310,1350 330,1150 330,985 Z" fill="none" stroke="#9f5a33" stroke-width="20" stroke-linejoin="round"/><clipPath id="morelclip"><path d="M470,100 C560,95 650,140 700,230 C760,330 780,450 800,550 C830,650 830,780 780,870 C740,940 690,960 640,960 L340,990 C260,990 180,930 140,850 C100,760 120,600 180,450 C210,330 240,220 300,160 C360,110 420,100 470,100 Z"/></clipPath><path d="M470,100 C560,95 650,140 700,230 C760,330 780,450 800,550 C830,650 830,780 780,870 C740,940 690,960 640,960 L340,990 C260,990 180,930 140,850 C100,760 120,600 180,450 C210,330 240,220 300,160 C360,110 420,100 470,100 Z" fill="#e6c38e"/><g clip-path="url(#morelclip)"><ellipse cx="115" cy="130" rx="41" ry="46" fill="#9a6424" transform="rotate(-24 115 130)"/><ellipse cx="232" cy="152" rx="35" ry="46" fill="#c08a48" transform="rotate(-26 232 152)"/><ellipse cx="328" cy="138" rx="44" ry="47" fill="#b07838" transform="rotate(8 328 138)"/><ellipse cx="452" cy="127" rx="40" ry="46" fill="#b07838" transform="rotate(-27 452 127)"/><ellipse cx="571" cy="134" rx="34" ry="47" fill="#c08a48" transform="rotate(4 571 134)"/><ellipse cx="675" cy="128" rx="40" ry="48" fill="#b07838" transform="rotate(3 675 128)"/><ellipse cx="767" cy="127" rx="35" ry="57" fill="#c08a48" transform="rotate(17 767 127)"/><ellipse cx="174" cy="253" rx="37" ry="49" fill="#b07838" transform="rotate(12 174 253)"/><ellipse cx="277" cy="242" rx="39" ry="60" fill="#9a6424" transform="rotate(-3 277 242)"/><ellipse cx="398" cy="227" rx="39" ry="48" fill="#c08a48" transform="rotate(-21 398 227)"/><ellipse cx="505" cy="226" rx="41" ry="58" fill="#9a6424" transform="rotate(17 505 226)"/><ellipse cx="625" cy="235" rx="37" ry="53" fill="#c08a48" transform="rotate(-26 625 235)"/><ellipse cx="713" cy="233" rx="42" ry="46" fill="#9a6424" transform="rotate(12 713 233)"/><ellipse cx="839" cy="255" rx="44" ry="50" fill="#c08a48" transform="rotate(23 839 255)"/><ellipse cx="115" cy="353" rx="37" ry="55" fill="#a8722f" transform="rotate(-26 115 353)"/><ellipse cx="238" cy="329" rx="35" ry="52" fill="#c08a48" transform="rotate(-25 238 329)"/><ellipse cx="338" cy="341" rx="44" ry="59" fill="#9a6424" transform="rotate(-13 338 341)"/><ellipse cx="447" cy="336" rx="44" ry="61" fill="#b07838" transform="rotate(-25 447 336)"/><ellipse cx="550" cy="345" rx="32" ry="59" fill="#b07838" transform="rotate(-14 550 345)"/><ellipse cx="655" cy="338" rx="37" ry="55" fill="#b07838" transform="rotate(11 655 338)"/><ellipse cx="780" cy="344" rx="41" ry="46" fill="#9a6424" transform="rotate(18 780 344)"/><ellipse cx="172" cy="437" rx="33" ry="56" fill="#8b5a1c" transform="rotate(-19 172 437)"/><ellipse cx="300" cy="438" rx="34" ry="55" fill="#8b5a1c" transform="rotate(-30 300 438)"/><ellipse cx="385" cy="428" rx="37" ry="45" fill="#8b5a1c" transform="rotate(7 385 428)"/><ellipse cx="494" cy="433" rx="37" ry="51" fill="#8b5a1c" transform="rotate(-23 494 433)"/><ellipse cx="615" cy="454" rx="39" ry="50" fill="#8b5a1c" transform="rotate(-24 615 454)"/><ellipse cx="720" cy="433" rx="44" ry="48" fill="#8b5a1c" transform="rotate(-18 720 433)"/><ellipse cx="849" cy="436" rx="42" ry="61" fill="#94601e" transform="rotate(-12 849 436)"/><ellipse cx="124" cy="528" rx="44" ry="54" fill="#8b5a1c" transform="rotate(-9 124 528)"/><ellipse cx="222" cy="541" rx="39" ry="56" fill="#94601e" transform="rotate(19 222 541)"/><ellipse cx="355" cy="551" rx="43" ry="59" fill="#94601e" transform="rotate(18 355 551)"/><ellipse cx="441" cy="540" rx="42" ry="62" fill="#a8722f" transform="rotate(-2 441 540)"/><ellipse cx="551" cy="543" rx="37" ry="59" fill="#94601e" transform="rotate(29 551 543)"/><ellipse cx="684" cy="536" rx="35" ry="49" fill="#6e2c22" transform="rotate(-18 684 536)"/><ellipse cx="784" cy="552" rx="44" ry="53" fill="#6e2c22" transform="rotate(18 784 552)"/><ellipse cx="163" cy="645" rx="45" ry="58" fill="#8b5a1c" transform="rotate(-1 163 645)"/><ellipse cx="275" cy="649" rx="37" ry="59" fill="#94601e" transform="rotate(-6 275 649)"/><ellipse cx="392" cy="653" rx="42" ry="48" fill="#8b5a1c" transform="rotate(-28 392 653)"/><ellipse cx="508" cy="639" rx="41" ry="55" fill="#94601e" transform="rotate(29 508 639)"/><ellipse cx="620" cy="636" rx="40" ry="47" fill="#8b5a1c" transform="rotate(9 620 636)"/><ellipse cx="726" cy="653" rx="38" ry="60" fill="#6b2a24" transform="rotate(-15 726 653)"/><ellipse cx="829" cy="632" rx="40" ry="49" fill="#6b2a24" transform="rotate(-26 829 632)"/><ellipse cx="127" cy="752" rx="41" ry="59" fill="#94601e" transform="rotate(-5 127 752)"/><ellipse cx="243" cy="740" rx="39" ry="54" fill="#8b5a1c" transform="rotate(22 243 740)"/><ellipse cx="348" cy="743" rx="43" ry="48" fill="#8b5a1c" transform="rotate(-2 348 743)"/><ellipse cx="457" cy="742" rx="37" ry="54" fill="#94601e" transform="rotate(-1 457 742)"/><ellipse cx="568" cy="751" rx="33" ry="48" fill="#8b5a1c" transform="rotate(16 568 751)"/><ellipse cx="670" cy="742" rx="43" ry="61" fill="#6e2c22" transform="rotate(7 670 742)"/><ellipse cx="780" cy="740" rx="42" ry="53" fill="#6e2c22" transform="rotate(0 780 740)"/><ellipse cx="167" cy="841" rx="44" ry="61" fill="#8b5a1c" transform="rotate(20 167 841)"/><ellipse cx="274" cy="829" rx="38" ry="46" fill="#8b5a1c" transform="rotate(-4 274 829)"/><ellipse cx="386" cy="834" rx="34" ry="58" fill="#94601e" transform="rotate(-21 386 834)"/><ellipse cx="516" cy="854" rx="35" ry="61" fill="#94601e" transform="rotate(23 516 854)"/><ellipse cx="605" cy="845" rx="35" ry="57" fill="#6e2c22" transform="rotate(-10 605 845)"/><ellipse cx="716" cy="835" rx="42" ry="45" fill="#6e2c22" transform="rotate(-4 716 835)"/><ellipse cx="821" cy="835" rx="41" ry="54" fill="#6b2a24" transform="rotate(29 821 835)"/><ellipse cx="129" cy="954" rx="33" ry="50" fill="#8b5a1c" transform="rotate(24 129 954)"/><ellipse cx="220" cy="948" rx="43" ry="59" fill="#94601e" transform="rotate(-6 220 948)"/><ellipse cx="341" cy="940" rx="39" ry="51" fill="#94601e" transform="rotate(-27 341 940)"/><ellipse cx="456" cy="938" rx="33" ry="61" fill="#8b5a1c" transform="rotate(18 456 938)"/><ellipse cx="548" cy="951" rx="33" ry="60" fill="#94601e" transform="rotate(-29 548 951)"/><ellipse cx="685" cy="938" rx="45" ry="56" fill="#8b5a1c" transform="rotate(13 685 938)"/><ellipse cx="793" cy="954" rx="36" ry="48" fill="#8b5a1c" transform="rotate(-12 793 954)"/></g><path d="M470,100 C560,95 650,140 700,230 C760,330 780,450 800,550 C830,650 830,780 780,870 C740,940 690,960 640,960 L340,990 C260,990 180,930 140,850 C100,760 120,600 180,450 C210,330 240,220 300,160 C360,110 420,100 470,100 Z" fill="none" stroke="#9f5a33" stroke-width="20" stroke-linejoin="round"/></g><g transform="translate(930,930) scale(0.10240)"><path d="M690,95 L905,95 Q916,100 912,200 L890,240 C950,300 1010,360 1015,420 L1015,1100 C1015,1180 980,1200 900,1200 L700,1200 C620,1200 590,1170 590,1100 L580,420 C585,350 640,300 705,240 L690,200 Q680,100 690,95 Z" fill="#f5e88c"/><path d="M610,430 C640,340 690,290 720,260 L760,260 C720,300 700,360 690,430 L690,1080 L620,1080 Z" fill="#f3f1d6"/><ellipse cx="800" cy="1110" rx="180" ry="45" fill="#f3d96a"/><path d="M700,210 L900,210 L890,250 L712,250 Z" fill="#cfcbb0"/><path d="M695,100 L905,100 L905,210 L700,210 Z" fill="#2c2c2c"/><line x1="700" y1="130" x2="905" y2="122" stroke="#555" stroke-width="6"/><line x1="700" y1="160" x2="905" y2="152" stroke="#555" stroke-width="6"/><line x1="700" y1="190" x2="905" y2="182" stroke="#555" stroke-width="6"/><path d="M690,95 L905,95 Q916,100 912,200 L890,240 C950,300 1010,360 1015,420 L1015,1100 C1015,1180 980,1200 900,1200 L700,1200 C620,1200 590,1170 590,1100 L580,420 C585,350 640,300 705,240 L690,200 Q680,100 690,95 Z" fill="none" stroke="#9f5a33" stroke-width="18" stroke-linejoin="round"/><path d="M880,775 C930,775 950,820 930,870 C880,940 700,1080 560,1180 C480,1240 440,1280 430,1330 C420,1400 370,1420 280,1420 C150,1420 70,1380 80,1330 C90,1270 200,1220 330,1200 C420,1185 470,1160 520,1110 C620,1000 780,850 840,800 C855,785 868,775 880,775 Z" fill="#c0846c" stroke="#9f5a33" stroke-width="18" stroke-linejoin="round"/><ellipse cx="250" cy="1318" rx="150" ry="68" transform="rotate(-10 250 1318)" fill="#f1efc6"/><path d="M380,1290 C420,1290 440,1320 430,1350 C420,1400 400,1410 385,1400 C380,1380 385,1330 360,1320 Z" fill="#f1efc6"/><ellipse cx="200" cy="1320" rx="70" ry="35" transform="rotate(-10 200 1320)" fill="#fbfbea"/></g><g transform="translate(100,1090) scale(0.12467)"><path d="M130,115 L590,72 L1015,235 L1010,630 L600,650 L480,630 L130,450 Z" fill="#fdeea0" stroke="#9f5a33" stroke-width="15" stroke-linejoin="round"/><path d="M135,120 L590,285 L600,645 L480,628 L135,450 Z" fill="#f3c935"/><path d="M135,120 L590,74 L1012,238 L590,285 Z" fill="#fdf0a8"/><path d="M590,285 L1010,240 L1006,625 L600,645 Z" fill="#fcec9a"/><path d="M130,115 L590,72 L1015,235 L1010,630 L600,650 L480,630 L130,450 Z" fill="none" stroke="#9f5a33" stroke-width="15" stroke-linejoin="round"/><clipPath id="curl1"><path d="M90,600 C80,480 180,420 280,420 C400,420 470,500 470,590 C470,680 400,700 330,690 L270,720 C240,720 230,700 230,690 C150,680 95,650 90,600 Z"/></clipPath><path d="M90,600 C80,480 180,420 280,420 C400,420 470,500 470,590 C470,680 400,700 330,690 L270,720 C240,720 230,700 230,690 C150,680 95,650 90,600 Z" fill="#fbe05a"/><g clip-path="url(#curl1)"><polyline points="127,729 110,694 99,656 95,617 98,579 108,541 125,505 147,473 175,445 208,421 245,404 284,392 325,387 365,389 406,397 443,412 478,432 509,458 535,488 554,522 568,559 574,598 574,637 567,675 553,711" fill="none" stroke="#fff3ad" stroke-width="14"/><polyline points="157,713 142,683 132,650 129,617 132,584 140,551 154,521 174,493 198,469 226,449 258,434 291,424 326,419 361,421 396,428 428,440 458,458 484,480 506,506 523,536 535,567 540,600 540,633 534,666 522,698" fill="none" stroke="#f5cf2c" stroke-width="14"/><polyline points="186,697 174,671 166,645 163,617 165,589 172,562 184,536 200,513 221,493 244,476 270,464 298,455 327,452 357,453 386,459 413,469 438,484 460,502 478,524 492,549 502,575 506,603 506,630 501,658 491,684" fill="none" stroke="#fff3ad" stroke-width="14"/><polyline points="215,681 205,660 199,639 197,616 199,594 204,572 214,552 227,533 243,517 262,504 283,494 306,487 329,484 353,485 376,490 397,498 417,510 435,525 450,542 461,562 469,583 473,605 472,627 468,649 460,670" fill="none" stroke="#f5cf2c" stroke-width="14"/><polyline points="245,664 237,649 233,633 231,616 232,599 237,583 244,567 254,553 266,541 280,531 296,523 313,518 330,516 348,517 366,521 382,527 397,536 410,547 421,560 430,575 436,591 439,607 439,624 435,641 429,657" fill="none" stroke="#fff3ad" stroke-width="14"/><polyline points="274,648 269,638 266,627 265,616 266,604 269,593 274,583 280,574 288,565 298,559 309,553 320,550 332,549 344,549 356,551 367,556 377,562 386,569 393,578 399,588 403,599 405,610 405,621 403,632 398,643" fill="none" stroke="#f5cf2c" stroke-width="14"/><ellipse cx="350" cy="615" rx="60" ry="55" fill="#fff8cc"/></g><path d="M90,600 C80,480 180,420 280,420 C400,420 470,500 470,590 C470,680 400,700 330,690 L270,720 C240,720 230,700 230,690 C150,680 95,650 90,600 Z" fill="none" stroke="#9f5a33" stroke-width="15" stroke-linejoin="round"/><path d="M510,650 C510,610 560,585 640,585 C720,585 760,620 760,660 L830,660 C840,700 840,760 830,860 C820,900 740,925 660,925 C570,925 510,890 510,840 Z" fill="#fbd838"/><path d="M520,700 C600,730 750,730 830,690" stroke="#fff0a0" stroke-width="12" fill="none"/><path d="M520,750 C600,780 750,780 830,740" stroke="#fff0a0" stroke-width="12" fill="none"/><path d="M520,800 C600,830 750,830 830,790" stroke="#fff0a0" stroke-width="12" fill="none"/><path d="M520,850 C600,880 750,880 830,840" stroke="#fff0a0" stroke-width="12" fill="none"/><ellipse cx="640" cy="640" rx="100" ry="40" fill="#fdf6c8"/><path d="M510,650 C510,610 560,585 640,585 C720,585 760,620 760,660 L830,660 C840,700 840,760 830,860 C820,900 740,925 660,925 C570,925 510,890 510,840 Z" fill="none" stroke="#9f5a33" stroke-width="15" stroke-linejoin="round"/></g><circle cx="164" cy="167.3" r="92.5" fill="#ffffff"/><g transform="translate(60,60) scale(0.19590)"><path d="M420,130 C520,100 650,110 760,150 C830,180 870,220 860,260 C800,300 760,330 800,380 C850,420 880,470 870,520 C860,600 900,650 880,700 C860,760 800,800 760,840 C720,870 680,880 640,860 C600,820 560,790 520,780 C460,770 400,760 330,780 C280,790 230,770 200,720 C170,660 160,600 170,540 C180,490 220,460 280,450 L290,420 C300,380 340,330 380,300 C400,260 390,200 420,130 Z" fill="#e4e4e4"/><path d="M600,860 C650,880 700,900 740,930 C720,960 680,970 640,950 C610,930 590,900 600,860 Z" fill="#e4e4e4"/><path d="M850,560 C880,540 920,560 930,600 C920,640 890,650 870,630 Z" fill="#e4e4e4"/><path d="M230,660 C300,640 360,650 420,640 C480,650 540,690 600,700 C660,700 700,690 740,700" stroke="#ffffff" stroke-width="5" fill="none"/></g><circle cx="73.00" cy="162.49" r="2.75" fill="#c4161c"/><circle cx="73.00" cy="167.56" r="2.75" fill="#c4161c"/><circle cx="73.00" cy="172.63" r="2.75" fill="#c4161c"/><circle cx="78.07" cy="137.14" r="2.75" fill="#c4161c"/><circle cx="78.07" cy="142.21" r="2.75" fill="#c4161c"/><circle cx="78.07" cy="147.28" r="2.75" fill="#c4161c"/><circle cx="78.07" cy="152.35" r="2.75" fill="#c4161c"/><circle cx="78.07" cy="157.42" r="2.97" fill="#2f6fb9"/><circle cx="78.07" cy="162.49" r="2.90" fill="#2f6fb9"/><circle cx="78.07" cy="167.56" r="2.87" fill="#2f6fb9"/><circle cx="78.07" cy="172.63" r="2.90" fill="#2f6fb9"/><circle cx="78.07" cy="177.70" r="2.98" fill="#2f6fb9"/><circle cx="78.07" cy="182.77" r="2.75" fill="#c4161c"/><circle cx="78.07" cy="187.84" r="2.75" fill="#c4161c"/><circle cx="78.07" cy="192.91" r="2.75" fill="#c4161c"/><circle cx="78.07" cy="197.98" r="2.75" fill="#c4161c"/><circle cx="83.14" cy="127.00" r="2.75" fill="#c4161c"/><circle cx="83.14" cy="132.07" r="2.75" fill="#c4161c"/><circle cx="83.14" cy="137.14" r="2.95" fill="#2f6fb9"/><circle cx="83.14" cy="142.21" r="2.74" fill="#2f6fb9"/><circle cx="83.14" cy="147.28" r="2.54" fill="#2f6fb9"/><circle cx="83.14" cy="152.35" r="2.37" fill="#2f6fb9"/><circle cx="83.14" cy="157.42" r="2.23" fill="#2f6fb9"/><circle cx="83.14" cy="162.49" r="2.11" fill="#2f6fb9"/><circle cx="83.14" cy="167.56" r="2.04" fill="#2f6fb9"/><circle cx="83.14" cy="172.63" r="2.08" fill="#2f6fb9"/><circle cx="83.14" cy="177.70" r="2.17" fill="#2f6fb9"/><circle cx="83.14" cy="182.77" r="2.31" fill="#2f6fb9"/><circle cx="83.14" cy="187.84" r="2.49" fill="#2f6fb9"/><circle cx="83.14" cy="192.91" r="2.71" fill="#2f6fb9"/><circle cx="83.14" cy="197.98" r="2.97" fill="#2f6fb9"/><circle cx="83.14" cy="203.05" r="2.75" fill="#c4161c"/><circle cx="83.14" cy="208.12" r="2.75" fill="#c4161c"/><circle cx="88.21" cy="116.86" r="2.75" fill="#c4161c"/><circle cx="88.21" cy="121.93" r="2.75" fill="#c4161c"/><circle cx="88.21" cy="127.00" r="2.90" fill="#2f6fb9"/><circle cx="88.21" cy="132.07" r="2.63" fill="#2f6fb9"/><circle cx="88.21" cy="137.14" r="2.37" fill="#2f6fb9"/><circle cx="88.21" cy="142.21" r="2.13" fill="#2f6fb9"/><circle cx="88.21" cy="147.28" r="1.89" fill="#2f6fb9"/><circle cx="88.21" cy="152.35" r="1.68" fill="#2f6fb9"/><circle cx="88.21" cy="157.42" r="1.49" fill="#2f6fb9"/><circle cx="88.21" cy="162.49" r="1.33" fill="#2f6fb9"/><circle cx="88.21" cy="167.56" r="1.21" fill="#2f6fb9"/><circle cx="88.21" cy="172.63" r="1.26" fill="#2f6fb9"/><circle cx="88.21" cy="177.70" r="1.36" fill="#2f6fb9"/><circle cx="88.21" cy="182.77" r="1.52" fill="#2f6fb9"/><circle cx="88.21" cy="187.84" r="1.72" fill="#2f6fb9"/><circle cx="88.21" cy="192.91" r="1.96" fill="#2f6fb9"/><circle cx="88.21" cy="197.98" r="2.24" fill="#2f6fb9"/><circle cx="88.21" cy="203.05" r="2.56" fill="#2f6fb9"/><circle cx="88.21" cy="208.12" r="2.91" fill="#2f6fb9"/><circle cx="88.21" cy="213.19" r="2.75" fill="#c4161c"/><circle cx="93.28" cy="111.79" r="2.75" fill="#c4161c"/><circle cx="93.28" cy="116.86" r="2.75" fill="#c4161c"/><circle cx="93.28" cy="121.93" r="2.71" fill="#2f6fb9"/><circle cx="93.28" cy="127.00" r="2.41" fill="#2f6fb9"/><circle cx="93.28" cy="132.07" r="2.11" fill="#2f6fb9"/><circle cx="93.28" cy="137.14" r="1.82" fill="#2f6fb9"/><circle cx="93.28" cy="142.21" r="1.54" fill="#2f6fb9"/><circle cx="93.28" cy="147.28" r="1.27" fill="#2f6fb9"/><circle cx="93.28" cy="152.35" r="1.01" fill="#2f6fb9"/><circle cx="93.28" cy="157.42" r="0.77" fill="#2f6fb9"/><circle cx="93.28" cy="162.49" r="0.9" fill="#e2e2e2"/><circle cx="93.28" cy="167.56" r="0.9" fill="#e2e2e2"/><circle cx="93.28" cy="172.63" r="0.9" fill="#e2e2e2"/><circle cx="93.28" cy="177.70" r="0.9" fill="#e2e2e2"/><circle cx="93.28" cy="182.77" r="0.74" fill="#2f6fb9"/><circle cx="93.28" cy="187.84" r="0.96" fill="#2f6fb9"/><circle cx="93.28" cy="192.91" r="1.23" fill="#2f6fb9"/><circle cx="93.28" cy="197.98" r="1.53" fill="#2f6fb9"/><circle cx="93.28" cy="203.05" r="1.87" fill="#2f6fb9"/><circle cx="93.28" cy="208.12" r="2.24" fill="#2f6fb9"/><circle cx="93.28" cy="213.19" r="2.64" fill="#2f6fb9"/><circle cx="93.28" cy="218.26" r="2.75" fill="#c4161c"/><circle cx="93.28" cy="223.33" r="2.75" fill="#c4161c"/><circle cx="98.35" cy="106.72" r="2.75" fill="#c4161c"/><circle cx="98.35" cy="111.79" r="2.93" fill="#2f6fb9"/><circle cx="98.35" cy="116.86" r="2.60" fill="#2f6fb9"/><circle cx="98.35" cy="121.93" r="2.27" fill="#2f6fb9"/><circle cx="98.35" cy="127.00" r="1.94" fill="#2f6fb9"/><circle cx="98.35" cy="132.07" r="1.62" fill="#2f6fb9"/><circle cx="98.35" cy="137.14" r="1.29" fill="#2f6fb9"/><circle cx="98.35" cy="142.21" r="0.97" fill="#2f6fb9"/><circle cx="98.35" cy="147.28" r="0.9" fill="#e2e2e2"/><circle cx="98.35" cy="152.35" r="0.9" fill="#e2e2e2"/><circle cx="98.35" cy="157.42" r="0.9" fill="#e2e2e2"/><circle cx="98.35" cy="162.49" r="0.9" fill="#e2e2e2"/><circle cx="98.35" cy="167.56" r="0.9" fill="#e2e2e2"/><circle cx="98.35" cy="172.63" r="0.9" fill="#e2e2e2"/><circle cx="98.35" cy="177.70" r="0.9" fill="#e2e2e2"/><circle cx="98.35" cy="182.77" r="0.9" fill="#e2e2e2"/><circle cx="98.35" cy="187.84" r="0.9" fill="#e2e2e2"/><circle cx="98.35" cy="192.91" r="0.9" fill="#e2e2e2"/><circle cx="98.35" cy="197.98" r="0.83" fill="#2f6fb9"/><circle cx="98.35" cy="203.05" r="1.20" fill="#2f6fb9"/><circle cx="98.35" cy="208.12" r="1.60" fill="#2f6fb9"/><circle cx="98.35" cy="213.19" r="2.02" fill="#2f6fb9"/><circle cx="98.35" cy="218.26" r="2.47" fill="#2f6fb9"/><circle cx="98.35" cy="223.33" r="2.94" fill="#2f6fb9"/><circle cx="98.35" cy="228.40" r="2.75" fill="#c4161c"/><circle cx="103.42" cy="101.65" r="2.75" fill="#c4161c"/><circle cx="103.42" cy="106.72" r="2.90" fill="#2f6fb9"/><circle cx="103.42" cy="111.79" r="2.56" fill="#2f6fb9"/><circle cx="103.42" cy="116.86" r="2.21" fill="#2f6fb9"/><circle cx="103.42" cy="121.93" r="1.86" fill="#2f6fb9"/><circle cx="103.42" cy="127.00" r="1.51" fill="#2f6fb9"/><circle cx="103.42" cy="132.07" r="1.15" fill="#2f6fb9"/><circle cx="103.42" cy="137.14" r="0.80" fill="#2f6fb9"/><circle cx="103.42" cy="142.21" r="0.9" fill="#e2e2e2"/><circle cx="103.42" cy="147.28" r="0.9" fill="#e2e2e2"/><circle cx="103.42" cy="152.35" r="0.9" fill="#e2e2e2"/><circle cx="103.42" cy="157.42" r="0.9" fill="#e2e2e2"/><circle cx="103.42" cy="162.49" r="0.9" fill="#e2e2e2"/><circle cx="103.42" cy="167.56" r="0.9" fill="#e2e2e2"/><circle cx="103.42" cy="172.63" r="0.9" fill="#e2e2e2"/><circle cx="103.42" cy="177.70" r="0.9" fill="#e2e2e2"/><circle cx="103.42" cy="182.77" r="0.9" fill="#e2e2e2"/><circle cx="103.42" cy="187.84" r="0.9" fill="#e2e2e2"/><circle cx="103.42" cy="192.91" r="0.9" fill="#e2e2e2"/><circle cx="103.42" cy="197.98" r="0.9" fill="#e2e2e2"/><circle cx="103.42" cy="203.05" r="0.9" fill="#e2e2e2"/><circle cx="103.42" cy="208.12" r="0.98" fill="#2f6fb9"/><circle cx="103.42" cy="213.19" r="1.43" fill="#2f6fb9"/><circle cx="103.42" cy="218.26" r="1.90" fill="#2f6fb9"/><circle cx="103.42" cy="223.33" r="2.40" fill="#2f6fb9"/><circle cx="103.42" cy="228.40" r="2.91" fill="#2f6fb9"/><circle cx="103.42" cy="233.47" r="2.75" fill="#c4161c"/><circle cx="108.49" cy="96.58" r="2.75" fill="#c4161c"/><circle cx="108.49" cy="101.65" r="2.93" fill="#2f6fb9"/><circle cx="108.49" cy="106.72" r="2.56" fill="#2f6fb9"/><circle cx="108.49" cy="111.79" r="2.21" fill="#2f6fb9"/><circle cx="108.49" cy="116.86" r="1.85" fill="#2f6fb9"/><circle cx="108.49" cy="121.93" r="1.48" fill="#2f6fb9"/><circle cx="108.49" cy="127.00" r="1.11" fill="#2f6fb9"/><circle cx="108.49" cy="132.07" r="0.73" fill="#2f6fb9"/><circle cx="108.49" cy="137.14" r="0.9" fill="#e2e2e2"/><circle cx="108.49" cy="142.21" r="0.9" fill="#e2e2e2"/><circle cx="108.49" cy="147.28" r="0.9" fill="#e2e2e2"/><circle cx="108.49" cy="152.35" r="0.9" fill="#e2e2e2"/><circle cx="108.49" cy="187.84" r="0.9" fill="#e2e2e2"/><circle cx="108.49" cy="192.91" r="0.9" fill="#e2e2e2"/><circle cx="108.49" cy="197.98" r="0.9" fill="#e2e2e2"/><circle cx="108.49" cy="203.05" r="0.9" fill="#e2e2e2"/><circle cx="108.49" cy="208.12" r="0.9" fill="#e2e2e2"/><circle cx="108.49" cy="213.19" r="0.86" fill="#2f6fb9"/><circle cx="108.49" cy="218.26" r="1.36" fill="#2f6fb9"/><circle cx="108.49" cy="223.33" r="1.87" fill="#2f6fb9"/><circle cx="108.49" cy="228.40" r="2.40" fill="#2f6fb9"/><circle cx="108.49" cy="233.47" r="2.95" fill="#2f6fb9"/><circle cx="108.49" cy="238.54" r="2.75" fill="#c4161c"/><circle cx="113.56" cy="91.51" r="2.75" fill="#c4161c"/><circle cx="113.56" cy="96.58" r="2.75" fill="#c4161c"/><circle cx="113.56" cy="101.65" r="2.60" fill="#2f6fb9"/><circle cx="113.56" cy="106.72" r="2.21" fill="#2f6fb9"/><circle cx="113.56" cy="111.79" r="1.85" fill="#2f6fb9"/><circle cx="113.56" cy="116.86" r="1.53" fill="#2f6fb9"/><circle cx="113.56" cy="121.93" r="1.14" fill="#2f6fb9"/><circle cx="113.56" cy="127.00" r="0.75" fill="#2f6fb9"/><circle cx="113.56" cy="132.07" r="0.9" fill="#e2e2e2"/><circle cx="113.56" cy="137.14" r="0.9" fill="#e2e2e2"/><circle cx="113.56" cy="142.21" r="0.9" fill="#e2e2e2"/><circle cx="113.56" cy="147.28" r="0.9" fill="#e2e2e2"/><circle cx="113.56" cy="197.98" r="0.9" fill="#e2e2e2"/><circle cx="113.56" cy="203.05" r="0.9" fill="#e2e2e2"/><circle cx="113.56" cy="208.12" r="0.9" fill="#e2e2e2"/><circle cx="113.56" cy="213.19" r="0.9" fill="#e2e2e2"/><circle cx="113.56" cy="218.26" r="0.84" fill="#2f6fb9"/><circle cx="113.56" cy="223.33" r="1.36" fill="#2f6fb9"/><circle cx="113.56" cy="228.40" r="1.91" fill="#2f6fb9"/><circle cx="113.56" cy="233.47" r="2.49" fill="#2f6fb9"/><circle cx="113.56" cy="238.54" r="2.75" fill="#c4161c"/><circle cx="118.63" cy="91.51" r="2.75" fill="#c4161c"/><circle cx="118.63" cy="96.58" r="2.71" fill="#2f6fb9"/><circle cx="118.63" cy="101.65" r="2.28" fill="#2f6fb9"/><circle cx="118.63" cy="106.72" r="1.87" fill="#2f6fb9"/><circle cx="118.63" cy="111.79" r="1.49" fill="#2f6fb9"/><circle cx="118.63" cy="116.86" r="1.15" fill="#2f6fb9"/><circle cx="118.63" cy="121.93" r="0.84" fill="#2f6fb9"/><circle cx="118.63" cy="127.00" r="0.9" fill="#e2e2e2"/><circle cx="118.63" cy="132.07" r="0.9" fill="#e2e2e2"/><circle cx="118.63" cy="137.14" r="0.9" fill="#e2e2e2"/><circle cx="118.63" cy="203.05" r="0.9" fill="#e2e2e2"/><circle cx="118.63" cy="208.12" r="0.9" fill="#e2e2e2"/><circle cx="118.63" cy="213.19" r="0.9" fill="#e2e2e2"/><circle cx="118.63" cy="218.26" r="0.9" fill="#e2e2e2"/><circle cx="118.63" cy="223.33" r="0.87" fill="#2f6fb9"/><circle cx="118.63" cy="228.40" r="1.44" fill="#2f6fb9"/><circle cx="118.63" cy="233.47" r="2.04" fill="#2f6fb9"/><circle cx="118.63" cy="238.54" r="2.67" fill="#2f6fb9"/><circle cx="118.63" cy="243.61" r="2.75" fill="#c4161c"/><circle cx="123.70" cy="86.44" r="2.75" fill="#c4161c"/><circle cx="123.70" cy="91.51" r="2.90" fill="#2f6fb9"/><circle cx="123.70" cy="96.58" r="2.42" fill="#2f6fb9"/><circle cx="123.70" cy="101.65" r="1.96" fill="#2f6fb9"/><circle cx="123.70" cy="106.72" r="1.52" fill="#2f6fb9"/><circle cx="123.70" cy="111.79" r="1.12" fill="#2f6fb9"/><circle cx="123.70" cy="116.86" r="0.76" fill="#2f6fb9"/><circle cx="123.70" cy="121.93" r="0.9" fill="#e2e2e2"/><circle cx="123.70" cy="127.00" r="0.9" fill="#e2e2e2"/><circle cx="123.70" cy="132.07" r="0.9" fill="#e2e2e2"/><circle cx="123.70" cy="208.12" r="0.9" fill="#e2e2e2"/><circle cx="123.70" cy="213.19" r="0.9" fill="#e2e2e2"/><circle cx="123.70" cy="218.26" r="0.9" fill="#e2e2e2"/><circle cx="123.70" cy="223.33" r="0.9" fill="#e2e2e2"/><circle cx="123.70" cy="228.40" r="0.99" fill="#2f6fb9"/><circle cx="123.70" cy="233.47" r="1.62" fill="#2f6fb9"/><circle cx="123.70" cy="238.54" r="2.27" fill="#2f6fb9"/><circle cx="123.70" cy="243.61" r="2.94" fill="#2f6fb9"/><circle cx="123.70" cy="248.68" r="2.75" fill="#c4161c"/><circle cx="128.77" cy="86.44" r="2.75" fill="#c4161c"/><circle cx="128.77" cy="91.51" r="2.64" fill="#2f6fb9"/><circle cx="128.77" cy="96.58" r="2.13" fill="#2f6fb9"/><circle cx="128.77" cy="101.65" r="1.64" fill="#2f6fb9"/><circle cx="128.77" cy="106.72" r="1.18" fill="#2f6fb9"/><circle cx="128.77" cy="111.79" r="0.76" fill="#2f6fb9"/><circle cx="128.77" cy="116.86" r="0.9" fill="#e2e2e2"/><circle cx="128.77" cy="121.93" r="0.9" fill="#e2e2e2"/><circle cx="128.77" cy="127.00" r="0.9" fill="#e2e2e2"/><circle cx="128.77" cy="132.07" r="0.9" fill="#e2e2e2"/><circle cx="128.77" cy="213.19" r="0.9" fill="#e2e2e2"/><circle cx="128.77" cy="218.26" r="0.9" fill="#e2e2e2"/><circle cx="128.77" cy="223.33" r="0.9" fill="#e2e2e2"/><circle cx="128.77" cy="228.40" r="0.9" fill="#e2e2e2"/><circle cx="128.77" cy="233.47" r="1.23" fill="#2f6fb9"/><circle cx="128.77" cy="238.54" r="1.90" fill="#2f6fb9"/><circle cx="128.77" cy="243.61" r="2.60" fill="#2f6fb9"/><circle cx="128.77" cy="248.68" r="2.75" fill="#c4161c"/><circle cx="133.84" cy="81.37" r="2.75" fill="#c4161c"/><circle cx="133.84" cy="86.44" r="2.95" fill="#2f6fb9"/><circle cx="133.84" cy="91.51" r="2.39" fill="#2f6fb9"/><circle cx="133.84" cy="96.58" r="1.85" fill="#2f6fb9"/><circle cx="133.84" cy="101.65" r="1.33" fill="#2f6fb9"/><circle cx="133.84" cy="106.72" r="0.84" fill="#2f6fb9"/><circle cx="133.84" cy="111.79" r="0.9" fill="#e2e2e2"/><circle cx="133.84" cy="116.86" r="0.9" fill="#e2e2e2"/><circle cx="133.84" cy="121.93" r="0.9" fill="#e2e2e2"/><circle cx="133.84" cy="218.26" r="0.9" fill="#e2e2e2"/><circle cx="133.84" cy="223.33" r="0.9" fill="#e2e2e2"/><circle cx="133.84" cy="228.40" r="0.9" fill="#e2e2e2"/><circle cx="133.84" cy="233.47" r="0.87" fill="#2f6fb9"/><circle cx="133.84" cy="238.54" r="1.57" fill="#2f6fb9"/><circle cx="133.84" cy="243.61" r="2.29" fill="#2f6fb9"/><circle cx="133.84" cy="248.68" r="2.75" fill="#c4161c"/><circle cx="138.91" cy="81.37" r="2.75" fill="#c4161c"/><circle cx="138.91" cy="86.44" r="2.75" fill="#2f6fb9"/><circle cx="138.91" cy="91.51" r="2.15" fill="#2f6fb9"/><circle cx="138.91" cy="96.58" r="1.58" fill="#2f6fb9"/><circle cx="138.91" cy="101.65" r="1.03" fill="#2f6fb9"/><circle cx="138.91" cy="106.72" r="0.9" fill="#e2e2e2"/><circle cx="138.91" cy="111.79" r="0.9" fill="#e2e2e2"/><circle cx="138.91" cy="116.86" r="0.9" fill="#e2e2e2"/><circle cx="138.91" cy="223.33" r="0.9" fill="#e2e2e2"/><circle cx="138.91" cy="228.40" r="0.9" fill="#e2e2e2"/><circle cx="138.91" cy="233.47" r="0.9" fill="#e2e2e2"/><circle cx="138.91" cy="238.54" r="1.27" fill="#2f6fb9"/><circle cx="138.91" cy="243.61" r="2.01" fill="#2f6fb9"/><circle cx="138.91" cy="248.68" r="2.76" fill="#2f6fb9"/><circle cx="138.91" cy="253.75" r="2.75" fill="#c4161c"/><circle cx="143.98" cy="81.37" r="2.75" fill="#c4161c"/><circle cx="143.98" cy="86.44" r="2.56" fill="#2f6fb9"/><circle cx="143.98" cy="91.51" r="1.94" fill="#2f6fb9"/><circle cx="143.98" cy="96.58" r="1.33" fill="#2f6fb9"/><circle cx="143.98" cy="101.65" r="0.74" fill="#2f6fb9"/><circle cx="143.98" cy="106.72" r="0.9" fill="#e2e2e2"/><circle cx="143.98" cy="111.79" r="0.9" fill="#e2e2e2"/><circle cx="143.98" cy="116.86" r="0.9" fill="#e2e2e2"/><circle cx="143.98" cy="223.33" r="0.9" fill="#e2e2e2"/><circle cx="143.98" cy="228.40" r="0.9" fill="#e2e2e2"/><circle cx="143.98" cy="233.47" r="0.9" fill="#e2e2e2"/><circle cx="143.98" cy="238.54" r="1.01" fill="#2f6fb9"/><circle cx="143.98" cy="243.61" r="1.77" fill="#2f6fb9"/><circle cx="143.98" cy="248.68" r="2.54" fill="#2f6fb9"/><circle cx="143.98" cy="253.75" r="2.75" fill="#c4161c"/><circle cx="149.05" cy="81.37" r="2.75" fill="#c4161c"/><circle cx="149.05" cy="86.44" r="2.40" fill="#2f6fb9"/><circle cx="149.05" cy="91.51" r="1.74" fill="#2f6fb9"/><circle cx="149.05" cy="96.58" r="1.09" fill="#2f6fb9"/><circle cx="149.05" cy="101.65" r="0.9" fill="#e2e2e2"/><circle cx="149.05" cy="106.72" r="0.9" fill="#e2e2e2"/><circle cx="149.05" cy="111.79" r="0.9" fill="#e2e2e2"/><circle cx="149.05" cy="228.40" r="0.9" fill="#e2e2e2"/><circle cx="149.05" cy="233.47" r="0.9" fill="#e2e2e2"/><circle cx="149.05" cy="238.54" r="0.80" fill="#2f6fb9"/><circle cx="149.05" cy="243.61" r="1.58" fill="#2f6fb9"/><circle cx="149.05" cy="248.68" r="2.37" fill="#2f6fb9"/><circle cx="149.05" cy="253.75" r="2.75" fill="#c4161c"/><circle cx="154.12" cy="81.37" r="2.78" fill="#2f6fb9"/><circle cx="154.12" cy="86.44" r="2.10" fill="#2f6fb9"/><circle cx="154.12" cy="91.51" r="1.43" fill="#2f6fb9"/><circle cx="154.12" cy="96.58" r="0.77" fill="#2f6fb9"/><circle cx="154.12" cy="101.65" r="0.9" fill="#e2e2e2"/><circle cx="154.12" cy="106.72" r="0.9" fill="#e2e2e2"/><circle cx="154.12" cy="111.79" r="0.9" fill="#e2e2e2"/><circle cx="154.12" cy="228.40" r="0.9" fill="#e2e2e2"/><circle cx="154.12" cy="233.47" r="0.9" fill="#e2e2e2"/><circle cx="154.12" cy="238.54" r="0.9" fill="#e2e2e2"/><circle cx="154.12" cy="243.61" r="1.43" fill="#2f6fb9"/><circle cx="154.12" cy="248.68" r="2.24" fill="#2f6fb9"/><circle cx="154.12" cy="253.75" r="2.75" fill="#c4161c"/><circle cx="159.19" cy="76.30" r="2.75" fill="#c4161c"/><circle cx="159.19" cy="81.37" r="2.51" fill="#2f6fb9"/><circle cx="159.19" cy="86.44" r="1.78" fill="#2f6fb9"/><circle cx="159.19" cy="91.51" r="1.05" fill="#2f6fb9"/><circle cx="159.19" cy="96.58" r="0.9" fill="#e2e2e2"/><circle cx="159.19" cy="101.65" r="0.9" fill="#e2e2e2"/><circle cx="159.19" cy="106.72" r="0.9" fill="#e2e2e2"/><circle cx="159.19" cy="228.40" r="0.9" fill="#e2e2e2"/><circle cx="159.19" cy="233.47" r="0.9" fill="#e2e2e2"/><circle cx="159.19" cy="238.54" r="0.9" fill="#e2e2e2"/><circle cx="159.19" cy="243.61" r="1.34" fill="#2f6fb9"/><circle cx="159.19" cy="248.68" r="2.16" fill="#2f6fb9"/><circle cx="159.19" cy="253.75" r="2.98" fill="#2f6fb9"/><circle cx="164.26" cy="76.30" r="2.75" fill="#c4161c"/><circle cx="164.26" cy="81.37" r="2.25" fill="#2f6fb9"/><circle cx="164.26" cy="86.44" r="1.44" fill="#2f6fb9"/><circle cx="164.26" cy="91.51" r="0.9" fill="#e2e2e2"/><circle cx="164.26" cy="96.58" r="0.9" fill="#e2e2e2"/><circle cx="164.26" cy="101.65" r="0.9" fill="#e2e2e2"/><circle cx="164.26" cy="228.40" r="0.9" fill="#e2e2e2"/><circle cx="164.26" cy="233.47" r="0.9" fill="#e2e2e2"/><circle cx="164.26" cy="238.54" r="0.9" fill="#e2e2e2"/><circle cx="164.26" cy="243.61" r="1.30" fill="#2f6fb9"/><circle cx="164.26" cy="248.68" r="2.13" fill="#2f6fb9"/><circle cx="164.26" cy="253.75" r="2.96" fill="#2f6fb9"/><circle cx="169.33" cy="76.30" r="2.88" fill="#2f6fb9"/><circle cx="169.33" cy="81.37" r="2.00" fill="#2f6fb9"/><circle cx="169.33" cy="86.44" r="1.11" fill="#2f6fb9"/><circle cx="169.33" cy="91.51" r="0.9" fill="#e2e2e2"/><circle cx="169.33" cy="96.58" r="0.9" fill="#e2e2e2"/><circle cx="169.33" cy="101.65" r="0.9" fill="#e2e2e2"/><circle cx="169.33" cy="228.40" r="0.9" fill="#e2e2e2"/><circle cx="169.33" cy="233.47" r="0.9" fill="#e2e2e2"/><circle cx="169.33" cy="238.54" r="0.9" fill="#e2e2e2"/><circle cx="169.33" cy="243.61" r="1.39" fill="#2f6fb9"/><circle cx="169.33" cy="248.68" r="2.18" fill="#2f6fb9"/><circle cx="169.33" cy="253.75" r="2.99" fill="#2f6fb9"/><circle cx="174.40" cy="81.37" r="1.90" fill="#2f6fb9"/><circle cx="174.40" cy="86.44" r="0.95" fill="#2f6fb9"/><circle cx="174.40" cy="91.51" r="0.9" fill="#e2e2e2"/><circle cx="174.40" cy="96.58" r="0.9" fill="#e2e2e2"/><circle cx="174.40" cy="228.40" r="0.9" fill="#e2e2e2"/><circle cx="174.40" cy="233.47" r="0.9" fill="#e2e2e2"/><circle cx="174.40" cy="238.54" r="0.76" fill="#2f6fb9"/><circle cx="174.40" cy="243.61" r="1.52" fill="#2f6fb9"/><circle cx="174.40" cy="248.68" r="2.28" fill="#2f6fb9"/><circle cx="174.40" cy="253.75" r="2.75" fill="#c4161c"/><circle cx="179.47" cy="81.37" r="1.96" fill="#2f6fb9"/><circle cx="179.47" cy="86.44" r="0.92" fill="#2f6fb9"/><circle cx="179.47" cy="91.51" r="0.9" fill="#e2e2e2"/><circle cx="179.47" cy="96.58" r="0.9" fill="#e2e2e2"/><circle cx="179.47" cy="223.33" r="0.9" fill="#e2e2e2"/><circle cx="179.47" cy="228.40" r="0.9" fill="#e2e2e2"/><circle cx="179.47" cy="233.47" r="0.9" fill="#e2e2e2"/><circle cx="179.47" cy="238.54" r="0.97" fill="#2f6fb9"/><circle cx="179.47" cy="243.61" r="1.69" fill="#2f6fb9"/><circle cx="179.47" cy="248.68" r="2.42" fill="#2f6fb9"/><circle cx="179.47" cy="253.75" r="2.75" fill="#c4161c"/><circle cx="184.54" cy="81.37" r="2.09" fill="#2f6fb9"/><circle cx="184.54" cy="86.44" r="0.96" fill="#2f6fb9"/><circle cx="184.54" cy="91.51" r="0.9" fill="#e2e2e2"/><circle cx="184.54" cy="96.58" r="0.9" fill="#e2e2e2"/><circle cx="184.54" cy="223.33" r="0.9" fill="#e2e2e2"/><circle cx="184.54" cy="228.40" r="0.9" fill="#e2e2e2"/><circle cx="184.54" cy="233.47" r="0.9" fill="#e2e2e2"/><circle cx="184.54" cy="238.54" r="1.21" fill="#2f6fb9"/><circle cx="184.54" cy="243.61" r="1.90" fill="#2f6fb9"/><circle cx="184.54" cy="248.68" r="2.60" fill="#2f6fb9"/><circle cx="184.54" cy="253.75" r="2.75" fill="#c4161c"/><circle cx="189.61" cy="81.37" r="2.27" fill="#2f6fb9"/><circle cx="189.61" cy="86.44" r="0.87" fill="#2f6fb9"/><circle cx="189.61" cy="91.51" r="0.9" fill="#e2e2e2"/><circle cx="189.61" cy="96.58" r="0.9" fill="#e2e2e2"/><circle cx="189.61" cy="218.26" r="0.9" fill="#e2e2e2"/><circle cx="189.61" cy="223.33" r="0.9" fill="#e2e2e2"/><circle cx="189.61" cy="228.40" r="0.9" fill="#e2e2e2"/><circle cx="189.61" cy="233.47" r="0.85" fill="#2f6fb9"/><circle cx="189.61" cy="238.54" r="1.48" fill="#2f6fb9"/><circle cx="189.61" cy="243.61" r="2.13" fill="#2f6fb9"/><circle cx="189.61" cy="248.68" r="2.80" fill="#2f6fb9"/><circle cx="189.61" cy="253.75" r="2.75" fill="#c4161c"/><circle cx="194.68" cy="81.37" r="2.58" fill="#2f6fb9"/><circle cx="194.68" cy="86.44" r="0.75" fill="#2f6fb9"/><circle cx="194.68" cy="91.51" r="0.9" fill="#e2e2e2"/><circle cx="194.68" cy="96.58" r="0.9" fill="#e2e2e2"/><circle cx="194.68" cy="213.19" r="0.9" fill="#e2e2e2"/><circle cx="194.68" cy="218.26" r="0.9" fill="#e2e2e2"/><circle cx="194.68" cy="223.33" r="0.9" fill="#e2e2e2"/><circle cx="194.68" cy="228.40" r="0.9" fill="#e2e2e2"/><circle cx="194.68" cy="233.47" r="1.17" fill="#2f6fb9"/><circle cx="194.68" cy="238.54" r="1.77" fill="#2f6fb9"/><circle cx="194.68" cy="243.61" r="2.39" fill="#2f6fb9"/><circle cx="194.68" cy="248.68" r="2.75" fill="#c4161c"/><circle cx="199.75" cy="86.44" r="0.71" fill="#2f6fb9"/><circle cx="199.75" cy="91.51" r="0.9" fill="#e2e2e2"/><circle cx="199.75" cy="96.58" r="0.9" fill="#e2e2e2"/><circle cx="199.75" cy="208.12" r="0.9" fill="#e2e2e2"/><circle cx="199.75" cy="213.19" r="0.9" fill="#e2e2e2"/><circle cx="199.75" cy="218.26" r="0.9" fill="#e2e2e2"/><circle cx="199.75" cy="223.33" r="0.9" fill="#e2e2e2"/><circle cx="199.75" cy="228.40" r="0.97" fill="#2f6fb9"/><circle cx="199.75" cy="233.47" r="1.51" fill="#2f6fb9"/><circle cx="199.75" cy="238.54" r="2.08" fill="#2f6fb9"/><circle cx="199.75" cy="243.61" r="2.68" fill="#2f6fb9"/><circle cx="199.75" cy="248.68" r="2.75" fill="#c4161c"/><circle cx="204.82" cy="86.44" r="0.94" fill="#2f6fb9"/><circle cx="204.82" cy="91.51" r="0.9" fill="#e2e2e2"/><circle cx="204.82" cy="96.58" r="0.9" fill="#e2e2e2"/><circle cx="204.82" cy="203.05" r="0.9" fill="#e2e2e2"/><circle cx="204.82" cy="208.12" r="0.9" fill="#e2e2e2"/><circle cx="204.82" cy="213.19" r="0.9" fill="#e2e2e2"/><circle cx="204.82" cy="218.26" r="0.9" fill="#e2e2e2"/><circle cx="204.82" cy="223.33" r="0.88" fill="#2f6fb9"/><circle cx="204.82" cy="228.40" r="1.36" fill="#2f6fb9"/><circle cx="204.82" cy="233.47" r="1.87" fill="#2f6fb9"/><circle cx="204.82" cy="238.54" r="2.41" fill="#2f6fb9"/><circle cx="204.82" cy="243.61" r="2.98" fill="#2f6fb9"/><circle cx="204.82" cy="248.68" r="2.75" fill="#c4161c"/><circle cx="209.89" cy="91.51" r="0.9" fill="#e2e2e2"/><circle cx="209.89" cy="96.58" r="0.9" fill="#e2e2e2"/><circle cx="209.89" cy="101.65" r="0.9" fill="#e2e2e2"/><circle cx="209.89" cy="197.98" r="0.9" fill="#e2e2e2"/><circle cx="209.89" cy="203.05" r="0.9" fill="#e2e2e2"/><circle cx="209.89" cy="208.12" r="0.9" fill="#e2e2e2"/><circle cx="209.89" cy="213.19" r="0.9" fill="#e2e2e2"/><circle cx="209.89" cy="218.26" r="0.87" fill="#2f6fb9"/><circle cx="209.89" cy="223.33" r="1.29" fill="#2f6fb9"/><circle cx="209.89" cy="228.40" r="1.75" fill="#2f6fb9"/><circle cx="209.89" cy="233.47" r="2.24" fill="#2f6fb9"/><circle cx="209.89" cy="238.54" r="2.75" fill="#2f6fb9"/><circle cx="209.89" cy="243.61" r="2.75" fill="#c4161c"/><circle cx="214.96" cy="96.58" r="0.9" fill="#e2e2e2"/><circle cx="214.96" cy="101.65" r="0.9" fill="#e2e2e2"/><circle cx="214.96" cy="106.72" r="0.9" fill="#e2e2e2"/><circle cx="214.96" cy="192.91" r="0.9" fill="#e2e2e2"/><circle cx="214.96" cy="197.98" r="0.9" fill="#e2e2e2"/><circle cx="214.96" cy="203.05" r="0.9" fill="#e2e2e2"/><circle cx="214.96" cy="208.12" r="0.9" fill="#e2e2e2"/><circle cx="214.96" cy="213.19" r="0.85" fill="#2f6fb9"/><circle cx="214.96" cy="218.26" r="1.32" fill="#2f6fb9"/><circle cx="214.96" cy="223.33" r="1.72" fill="#2f6fb9"/><circle cx="214.96" cy="228.40" r="2.15" fill="#2f6fb9"/><circle cx="214.96" cy="233.47" r="2.62" fill="#2f6fb9"/><circle cx="214.96" cy="238.54" r="2.75" fill="#c4161c"/><circle cx="220.03" cy="96.58" r="0.9" fill="#e2e2e2"/><circle cx="220.03" cy="101.65" r="0.9" fill="#e2e2e2"/><circle cx="220.03" cy="106.72" r="0.9" fill="#e2e2e2"/><circle cx="220.03" cy="111.79" r="0.9" fill="#e2e2e2"/><circle cx="220.03" cy="187.84" r="0.9" fill="#e2e2e2"/><circle cx="220.03" cy="192.91" r="0.9" fill="#e2e2e2"/><circle cx="220.03" cy="197.98" r="0.9" fill="#e2e2e2"/><circle cx="220.03" cy="203.05" r="0.9" fill="#e2e2e2"/><circle cx="220.03" cy="208.12" r="0.81" fill="#2f6fb9"/><circle cx="220.03" cy="213.19" r="1.26" fill="#2f6fb9"/><circle cx="220.03" cy="218.26" r="1.70" fill="#2f6fb9"/><circle cx="220.03" cy="223.33" r="2.14" fill="#2f6fb9"/><circle cx="220.03" cy="228.40" r="2.56" fill="#2f6fb9"/><circle cx="220.03" cy="233.47" r="2.75" fill="#c4161c"/><circle cx="220.03" cy="238.54" r="2.75" fill="#c4161c"/><circle cx="225.10" cy="101.65" r="0.9" fill="#e2e2e2"/><circle cx="225.10" cy="106.72" r="0.9" fill="#e2e2e2"/><circle cx="225.10" cy="111.79" r="0.9" fill="#e2e2e2"/><circle cx="225.10" cy="116.86" r="0.9" fill="#e2e2e2"/><circle cx="225.10" cy="182.77" r="0.9" fill="#e2e2e2"/><circle cx="225.10" cy="187.84" r="0.9" fill="#e2e2e2"/><circle cx="225.10" cy="192.91" r="0.9" fill="#e2e2e2"/><circle cx="225.10" cy="197.98" r="0.9" fill="#e2e2e2"/><circle cx="225.10" cy="203.05" r="0.86" fill="#2f6fb9"/><circle cx="225.10" cy="208.12" r="1.29" fill="#2f6fb9"/><circle cx="225.10" cy="213.19" r="1.71" fill="#2f6fb9"/><circle cx="225.10" cy="218.26" r="2.13" fill="#2f6fb9"/><circle cx="225.10" cy="223.33" r="2.55" fill="#2f6fb9"/><circle cx="225.10" cy="228.40" r="2.97" fill="#2f6fb9"/><circle cx="225.10" cy="233.47" r="2.75" fill="#c4161c"/><circle cx="230.17" cy="106.72" r="0.9" fill="#e2e2e2"/><circle cx="230.17" cy="111.79" r="0.9" fill="#e2e2e2"/><circle cx="230.17" cy="116.86" r="0.9" fill="#e2e2e2"/><circle cx="230.17" cy="121.93" r="0.9" fill="#e2e2e2"/><circle cx="230.17" cy="177.70" r="0.9" fill="#e2e2e2"/><circle cx="230.17" cy="182.77" r="0.9" fill="#e2e2e2"/><circle cx="230.17" cy="187.84" r="0.9" fill="#e2e2e2"/><circle cx="230.17" cy="192.91" r="0.9" fill="#e2e2e2"/><circle cx="230.17" cy="197.98" r="1.02" fill="#2f6fb9"/><circle cx="230.17" cy="203.05" r="1.42" fill="#2f6fb9"/><circle cx="230.17" cy="208.12" r="1.81" fill="#2f6fb9"/><circle cx="230.17" cy="213.19" r="2.21" fill="#2f6fb9"/><circle cx="230.17" cy="218.26" r="2.60" fill="#2f6fb9"/><circle cx="230.17" cy="223.33" r="2.75" fill="#c4161c"/><circle cx="230.17" cy="228.40" r="2.75" fill="#c4161c"/><circle cx="235.24" cy="111.79" r="0.9" fill="#e2e2e2"/><circle cx="235.24" cy="116.86" r="0.9" fill="#e2e2e2"/><circle cx="235.24" cy="121.93" r="0.9" fill="#e2e2e2"/><circle cx="235.24" cy="127.00" r="0.9" fill="#e2e2e2"/><circle cx="235.24" cy="132.07" r="0.9" fill="#e2e2e2"/><circle cx="235.24" cy="137.14" r="0.9" fill="#e2e2e2"/><circle cx="235.24" cy="142.21" r="0.9" fill="#e2e2e2"/><circle cx="235.24" cy="147.28" r="0.9" fill="#e2e2e2"/><circle cx="235.24" cy="172.63" r="0.9" fill="#e2e2e2"/><circle cx="235.24" cy="177.70" r="0.9" fill="#e2e2e2"/><circle cx="235.24" cy="182.77" r="0.9" fill="#e2e2e2"/><circle cx="235.24" cy="187.84" r="0.97" fill="#2f6fb9"/><circle cx="235.24" cy="192.91" r="1.31" fill="#2f6fb9"/><circle cx="235.24" cy="197.98" r="1.66" fill="#2f6fb9"/><circle cx="235.24" cy="203.05" r="2.02" fill="#2f6fb9"/><circle cx="235.24" cy="208.12" r="2.38" fill="#2f6fb9"/><circle cx="235.24" cy="213.19" r="2.74" fill="#2f6fb9"/><circle cx="235.24" cy="218.26" r="2.75" fill="#c4161c"/><circle cx="235.24" cy="223.33" r="2.75" fill="#c4161c"/><circle cx="240.31" cy="121.93" r="0.9" fill="#e2e2e2"/><circle cx="240.31" cy="127.00" r="0.9" fill="#e2e2e2"/><circle cx="240.31" cy="132.07" r="0.9" fill="#e2e2e2"/><circle cx="240.31" cy="137.14" r="0.9" fill="#e2e2e2"/><circle cx="240.31" cy="142.21" r="0.9" fill="#e2e2e2"/><circle cx="240.31" cy="147.28" r="0.9" fill="#e2e2e2"/><circle cx="240.31" cy="152.35" r="0.9" fill="#e2e2e2"/><circle cx="240.31" cy="157.42" r="0.9" fill="#e2e2e2"/><circle cx="240.31" cy="162.49" r="0.9" fill="#e2e2e2"/><circle cx="240.31" cy="167.56" r="0.9" fill="#e2e2e2"/><circle cx="240.31" cy="172.63" r="0.9" fill="#e2e2e2"/><circle cx="240.31" cy="177.70" r="0.9" fill="#e2e2e2"/><circle cx="240.31" cy="182.77" r="1.10" fill="#2f6fb9"/><circle cx="240.31" cy="187.84" r="1.74" fill="#2f6fb9"/><circle cx="240.31" cy="192.91" r="2.03" fill="#2f6fb9"/><circle cx="240.31" cy="197.98" r="2.33" fill="#2f6fb9"/><circle cx="240.31" cy="203.05" r="2.65" fill="#2f6fb9"/><circle cx="240.31" cy="208.12" r="2.98" fill="#2f6fb9"/><circle cx="240.31" cy="213.19" r="2.75" fill="#c4161c"/><circle cx="245.38" cy="127.00" r="1.32" fill="#2f6fb9"/><circle cx="245.38" cy="132.07" r="0.9" fill="#e2e2e2"/><circle cx="245.38" cy="137.14" r="0.9" fill="#e2e2e2"/><circle cx="245.38" cy="142.21" r="0.9" fill="#e2e2e2"/><circle cx="245.38" cy="147.28" r="0.9" fill="#e2e2e2"/><circle cx="245.38" cy="152.35" r="0.9" fill="#e2e2e2"/><circle cx="245.38" cy="157.42" r="0.9" fill="#e2e2e2"/><circle cx="245.38" cy="162.49" r="0.9" fill="#e2e2e2"/><circle cx="245.38" cy="167.56" r="0.9" fill="#e2e2e2"/><circle cx="245.38" cy="172.63" r="0.9" fill="#e2e2e2"/><circle cx="245.38" cy="177.70" r="1.31" fill="#2f6fb9"/><circle cx="245.38" cy="182.77" r="1.95" fill="#2f6fb9"/><circle cx="245.38" cy="187.84" r="2.48" fill="#2f6fb9"/><circle cx="245.38" cy="192.91" r="2.78" fill="#2f6fb9"/><circle cx="245.38" cy="197.98" r="2.75" fill="#c4161c"/><circle cx="245.38" cy="203.05" r="2.75" fill="#c4161c"/><circle cx="245.38" cy="208.12" r="2.75" fill="#c4161c"/><circle cx="250.45" cy="142.21" r="1.75" fill="#2f6fb9"/><circle cx="250.45" cy="147.28" r="1.28" fill="#2f6fb9"/><circle cx="250.45" cy="152.35" r="1.02" fill="#2f6fb9"/><circle cx="250.45" cy="157.42" r="0.90" fill="#2f6fb9"/><circle cx="250.45" cy="162.49" r="0.91" fill="#2f6fb9"/><circle cx="250.45" cy="167.56" r="1.06" fill="#2f6fb9"/><circle cx="250.45" cy="172.63" r="1.80" fill="#2f6fb9"/><circle cx="250.45" cy="177.70" r="2.37" fill="#2f6fb9"/><circle cx="250.45" cy="182.77" r="2.85" fill="#2f6fb9"/><circle cx="250.45" cy="187.84" r="2.75" fill="#c4161c"/><circle cx="250.45" cy="192.91" r="2.75" fill="#c4161c"/><path d="M156.04,76.35 A91.3,91.3 0 1 0 253.91,183.15" fill="none" stroke="#c4161c" stroke-width="2.4"/><path d="M115.5,119 L212.5,119 L211,168 C208,195 186,215 164,227.5 C142,215 120,195 117.5,168 Z" fill="none" stroke="#9b1a17" stroke-width="3.4" stroke-linejoin="miter"/>
</svg>
<div class="t" style="left:298.85px;top:46.85px;font-size:119.19px;line-height:119.19px;transform:scaleX(0.7751);color:#1467b1;font-weight:bold;font-style:normal;-webkit-text-stroke:3px #1467b1;letter-spacing:-0.005em;">ЗДОРОВЫЕ</div><div class="t" style="left:456.86px;top:153.32px;font-size:120.64px;line-height:120.64px;transform:scaleX(0.8107);color:#1467b1;font-weight:bold;font-style:normal;-webkit-text-stroke:3px #1467b1;letter-spacing:-0.005em;">ПРИВЫЧКИ</div><div class="t" style="left:80.26px;top:322.62px;font-size:69.04px;line-height:69.04px;transform:scaleX(0.7436);color:#ffffff;font-weight:bold;font-style:normal;">ВИТАМИН D: ПОЛЬЗА И ИСТОЧНИКИ</div><div class="t" style="left:341.98px;top:579.30px;font-size:34.30px;line-height:34.30px;transform:scaleX(0.8467);color:#9b1a17;font-weight:bold;font-style:normal;-webkit-text-stroke:0.7px #9b1a17;letter-spacing:0.02em;">6,64 МКГ</div><div class="t" style="left:530.56px;top:538.40px;font-size:34.30px;line-height:34.30px;transform:scaleX(0.8187);color:#9b1a17;font-weight:bold;font-style:normal;-webkit-text-stroke:0.7px #9b1a17;letter-spacing:0.02em;">7,7 МКГ</div><div class="t" style="left:714.62px;top:576.50px;font-size:34.30px;line-height:34.30px;transform:scaleX(0.8097);color:#9b1a17;font-weight:bold;font-style:normal;-webkit-text-stroke:0.7px #9b1a17;letter-spacing:0.02em;">16,1 МКГ</div><div class="t" style="left:806.10px;top:700.30px;font-size:34.30px;line-height:34.30px;transform:scaleX(0.8198);color:#9b1a17;font-weight:bold;font-style:normal;-webkit-text-stroke:0.7px #9b1a17;letter-spacing:0.02em;">16,7 МКГ</div><div class="t" style="left:216.95px;top:699.50px;font-size:34.30px;line-height:34.30px;transform:scaleX(0.8142);color:#9b1a17;font-weight:bold;font-style:normal;-webkit-text-stroke:0.7px #9b1a17;letter-spacing:0.02em;">5,7 МКГ</div><div class="t" style="left:170.95px;top:834.50px;font-size:34.30px;line-height:34.30px;transform:scaleX(0.8173);color:#9b1a17;font-weight:bold;font-style:normal;-webkit-text-stroke:0.7px #9b1a17;letter-spacing:0.02em;">5,3 МКГ</div><div class="t" style="left:161.95px;top:989.50px;font-size:34.30px;line-height:34.30px;transform:scaleX(0.8049);color:#9b1a17;font-weight:bold;font-style:normal;-webkit-text-stroke:0.7px #9b1a17;letter-spacing:0.02em;">5,1 МКГ</div><div class="t" style="left:236.41px;top:1138.50px;font-size:34.30px;line-height:34.30px;transform:scaleX(0.8121);color:#9b1a17;font-weight:bold;font-style:normal;-webkit-text-stroke:0.7px #9b1a17;letter-spacing:0.02em;">1,3 МКГ</div><div class="t" style="left:858.19px;top:843.30px;font-size:34.30px;line-height:34.30px;transform:scaleX(0.8259);color:#9b1a17;font-weight:bold;font-style:normal;-webkit-text-stroke:0.7px #9b1a17;letter-spacing:0.02em;">100 МКГ</div><div class="t" style="left:859.30px;top:989.00px;font-size:34.30px;line-height:34.30px;transform:scaleX(0.8179);color:#9b1a17;font-weight:bold;font-style:normal;-webkit-text-stroke:0.7px #9b1a17;letter-spacing:0.02em;">250 МКГ</div><div class="t" style="left:341.74px;top:616.59px;font-size:21.97px;line-height:21.97px;transform:scaleX(0.8303);color:#474747;font-weight:bold;font-style:normal;-webkit-text-stroke:0.4px #474747;letter-spacing:0.02em;">семга</div><div class="t" style="left:531.07px;top:574.49px;font-size:21.97px;line-height:21.97px;transform:scaleX(0.8324);color:#474747;font-weight:bold;font-style:normal;-webkit-text-stroke:0.4px #474747;letter-spacing:0.02em;">яичный желток</div><div class="t" style="left:715.43px;top:613.69px;font-size:21.97px;line-height:21.97px;transform:scaleX(0.8358);color:#474747;font-weight:bold;font-style:normal;-webkit-text-stroke:0.4px #474747;letter-spacing:0.02em;">скумбрия</div><div class="t" style="left:806.57px;top:737.89px;font-size:21.97px;line-height:21.97px;transform:scaleX(0.8426);color:#474747;font-weight:bold;font-style:normal;-webkit-text-stroke:0.4px #474747;letter-spacing:0.02em;">нерка</div><div class="t" style="left:216.72px;top:737.29px;font-size:21.97px;line-height:21.97px;transform:scaleX(0.8294);color:#474747;font-weight:bold;font-style:normal;-webkit-text-stroke:0.4px #474747;letter-spacing:0.02em;">тунец</div><div class="t" style="left:170.58px;top:871.99px;font-size:21.97px;line-height:21.97px;transform:scaleX(0.8333);color:#474747;font-weight:bold;font-style:normal;-webkit-text-stroke:0.4px #474747;letter-spacing:0.02em;">лисички</div><div class="t" style="left:165.62px;top:1027.29px;font-size:21.97px;line-height:21.97px;transform:scaleX(0.8512);color:#474747;font-weight:bold;font-style:normal;-webkit-text-stroke:0.4px #474747;letter-spacing:0.02em;">сморчки</div><div class="t" style="left:237.25px;top:1175.19px;font-size:21.97px;line-height:21.97px;transform:scaleX(0.8145);color:#474747;font-weight:bold;font-style:normal;-webkit-text-stroke:0.4px #474747;letter-spacing:0.02em;">сливочное масло</div><div class="t" style="left:858.47px;top:880.59px;font-size:21.97px;line-height:21.97px;transform:scaleX(0.8423);color:#474747;font-weight:bold;font-style:normal;-webkit-text-stroke:0.4px #474747;letter-spacing:0.02em;">печень трески</div><div class="t" style="left:858.99px;top:1026.99px;font-size:21.97px;line-height:21.97px;transform:scaleX(0.8204);color:#474747;font-weight:bold;font-style:normal;-webkit-text-stroke:0.4px #474747;letter-spacing:0.02em;">рыбий жир</div><div class="t" style="left:807.93px;top:1132.79px;font-size:21.97px;line-height:21.97px;transform:scaleX(0.8368);color:#474747;font-weight:bold;font-style:normal;-webkit-text-stroke:0.4px #474747;letter-spacing:0.02em;">солнечные</div><div class="t" style="left:868.68px;top:1153.89px;font-size:21.97px;line-height:21.97px;transform:scaleX(0.8266);color:#474747;font-weight:bold;font-style:normal;-webkit-text-stroke:0.4px #474747;letter-spacing:0.02em;">лучи</div><div class="t" style="left:799.97px;top:1174.85px;font-size:22.97px;line-height:22.97px;transform:scaleX(0.8333);color:#474747;font-weight:bold;font-style:normal;-webkit-text-stroke:0.4px #474747;letter-spacing:0.02em;">УФ-спектра</div><div class="t" style="left:467.37px;top:642.76px;font-size:39.24px;line-height:39.24px;transform:scaleX(0.7931);color:#1e1e1c;font-weight:bold;font-style:normal;-webkit-text-stroke:1px #1e1e1c;">ВИТАМИН D</div><div class="t" style="left:475.60px;top:1149.24px;font-size:53.20px;line-height:53.20px;transform:scaleX(0.7697);color:#9b1a17;font-weight:bold;font-style:normal;-webkit-text-stroke:1.2px #9b1a17;letter-spacing:0.02em;">НОРМА:</div><div class="t" style="left:340.86px;top:1205.51px;font-size:52.76px;line-height:52.76px;transform:scaleX(0.8308);color:#9b1a17;font-weight:bold;font-style:normal;-webkit-text-stroke:1.2px #9b1a17;letter-spacing:0.02em;">600-800 МЕ (15 МКГ)</div><div class="t" style="left:71.40px;top:1302.45px;font-size:19.99px;line-height:19.99px;transform:scaleX(0.7456);color:#1e1e1c;font-weight:bold;font-style:normal;-webkit-text-stroke:0.25px #1e1e1c;letter-spacing:0.03em;">ОБЕСПЕЧИВАЕТ</div><div class="t" style="left:71.00px;top:1323.65px;font-size:19.99px;line-height:19.99px;transform:scaleX(0.7684);color:#1e1e1c;font-weight:bold;font-style:normal;-webkit-text-stroke:0.25px #1e1e1c;letter-spacing:0.03em;">ВСАСЫВАНИЕ</div><div class="t" style="left:70.99px;top:1344.85px;font-size:19.99px;line-height:19.99px;transform:scaleX(0.7777);color:#1e1e1c;font-weight:bold;font-style:normal;-webkit-text-stroke:0.25px #1e1e1c;letter-spacing:0.03em;">КАЛЬЦИЯ</div><div class="t" style="left:70.98px;top:1366.05px;font-size:19.99px;line-height:19.99px;transform:scaleX(0.7844);color:#1e1e1c;font-weight:bold;font-style:normal;-webkit-text-stroke:0.25px #1e1e1c;letter-spacing:0.03em;">И ФОСФОРА</div><div class="t" style="left:71.02px;top:1403.35px;font-size:19.99px;line-height:19.99px;transform:scaleX(0.7473);color:#1e1e1c;font-weight:bold;font-style:normal;-webkit-text-stroke:0.25px #1e1e1c;letter-spacing:0.03em;">БЛАГОТВОРНО</div><div class="t" style="left:71.01px;top:1424.55px;font-size:19.99px;line-height:19.99px;transform:scaleX(0.7572);color:#1e1e1c;font-weight:bold;font-style:normal;-webkit-text-stroke:0.25px #1e1e1c;letter-spacing:0.03em;">ВЛИЯЕТ</div><div class="t" style="left:70.97px;top:1445.85px;font-size:19.99px;line-height:19.99px;transform:scaleX(0.7942);color:#1e1e1c;font-weight:bold;font-style:normal;-webkit-text-stroke:0.25px #1e1e1c;letter-spacing:0.03em;">НА ИММУННУЮ</div><div class="t" style="left:71.38px;top:1467.15px;font-size:19.99px;line-height:19.99px;transform:scaleX(0.7745);color:#1e1e1c;font-weight:bold;font-style:normal;-webkit-text-stroke:0.25px #1e1e1c;letter-spacing:0.03em;">СИСТЕМУ</div><div class="t" style="left:260.50px;top:1303.35px;font-size:19.99px;line-height:19.99px;transform:scaleX(0.7640);color:#1e1e1c;font-weight:bold;font-style:normal;-webkit-text-stroke:0.25px #1e1e1c;letter-spacing:0.03em;">РЕГУЛИРУЕТ</div><div class="t" style="left:260.49px;top:1324.55px;font-size:19.99px;line-height:19.99px;transform:scaleX(0.7748);color:#1e1e1c;font-weight:bold;font-style:normal;-webkit-text-stroke:0.25px #1e1e1c;letter-spacing:0.03em;">РАБОТУ СЕРДЕЧНО-</div><div class="t" style="left:260.87px;top:1345.75px;font-size:19.99px;line-height:19.99px;transform:scaleX(0.7881);color:#1e1e1c;font-weight:bold;font-style:normal;-webkit-text-stroke:0.25px #1e1e1c;letter-spacing:0.03em;">СОСУДИСТОЙ</div><div class="t" style="left:260.87px;top:1366.95px;font-size:19.99px;line-height:19.99px;transform:scaleX(0.7804);color:#1e1e1c;font-weight:bold;font-style:normal;-webkit-text-stroke:0.25px #1e1e1c;letter-spacing:0.03em;">СИСТЕМЫ, СНИЖАЯ</div><div class="t" style="left:260.49px;top:1388.15px;font-size:19.99px;line-height:19.99px;transform:scaleX(0.7743);color:#1e1e1c;font-weight:bold;font-style:normal;-webkit-text-stroke:0.25px #1e1e1c;letter-spacing:0.03em;">РИСК РАЗВИТИЯ</div><div class="t" style="left:260.46px;top:1409.35px;font-size:19.99px;line-height:19.99px;transform:scaleX(0.7981);color:#1e1e1c;font-weight:bold;font-style:normal;-webkit-text-stroke:0.25px #1e1e1c;letter-spacing:0.03em;">ИНФАРКТА</div><div class="t" style="left:260.48px;top:1430.55px;font-size:19.99px;line-height:19.99px;transform:scaleX(0.7867);color:#1e1e1c;font-weight:bold;font-style:normal;-webkit-text-stroke:0.25px #1e1e1c;letter-spacing:0.03em;">МИОКАРДА</div><div class="t" style="left:665.90px;top:1302.85px;font-size:19.99px;line-height:19.99px;transform:scaleX(0.7630);color:#1e1e1c;font-weight:bold;font-style:normal;-webkit-text-stroke:0.25px #1e1e1c;letter-spacing:0.03em;">УЧАСТВУЕТ</div><div class="t" style="left:664.92px;top:1323.95px;font-size:19.99px;line-height:19.99px;transform:scaleX(0.7530);color:#1e1e1c;font-weight:bold;font-style:normal;-webkit-text-stroke:0.25px #1e1e1c;letter-spacing:0.03em;">В СИНТЕЗЕ</div><div class="t" style="left:664.85px;top:1345.05px;font-size:19.99px;line-height:19.99px;transform:scaleX(0.8068);color:#1e1e1c;font-weight:bold;font-style:normal;-webkit-text-stroke:0.25px #1e1e1c;letter-spacing:0.03em;">ИНСУЛИНА,</div><div class="t" style="left:664.91px;top:1366.15px;font-size:19.99px;line-height:19.99px;transform:scaleX(0.7612);color:#1e1e1c;font-weight:bold;font-style:normal;-webkit-text-stroke:0.25px #1e1e1c;letter-spacing:0.03em;">ПРЕДОТВРАЩАЯ</div><div class="t" style="left:664.89px;top:1387.25px;font-size:19.99px;line-height:19.99px;transform:scaleX(0.7741);color:#1e1e1c;font-weight:bold;font-style:normal;-webkit-text-stroke:0.25px #1e1e1c;letter-spacing:0.03em;">РАЗВИТИЕ</div><div class="t" style="left:665.31px;top:1408.35px;font-size:19.99px;line-height:19.99px;transform:scaleX(0.7338);color:#1e1e1c;font-weight:bold;font-style:normal;-webkit-text-stroke:0.25px #1e1e1c;letter-spacing:0.03em;">САХАРНОГО ДИАБЕТА</div><div class="t" style="left:873.23px;top:1302.95px;font-size:19.99px;line-height:19.99px;transform:scaleX(0.7406);color:#1e1e1c;font-weight:bold;font-style:normal;-webkit-text-stroke:0.25px #1e1e1c;letter-spacing:0.03em;">ВЛИЯЕТ НА РАБОТУ</div><div class="t" style="left:873.18px;top:1324.15px;font-size:19.99px;line-height:19.99px;transform:scaleX(0.7807);color:#1e1e1c;font-weight:bold;font-style:normal;-webkit-text-stroke:0.25px #1e1e1c;letter-spacing:0.03em;">МОЗГА, СНИЖАЯ</div><div class="t" style="left:873.19px;top:1345.35px;font-size:19.99px;line-height:19.99px;transform:scaleX(0.7732);color:#1e1e1c;font-weight:bold;font-style:normal;-webkit-text-stroke:0.25px #1e1e1c;letter-spacing:0.03em;">РИСК РАЗВИТИЯ</div><div class="t" style="left:873.21px;top:1366.55px;font-size:19.99px;line-height:19.99px;transform:scaleX(0.7557);color:#1e1e1c;font-weight:bold;font-style:normal;-webkit-text-stroke:0.25px #1e1e1c;letter-spacing:0.03em;">БОЛЕЗНИ ПАРКИНСОНА</div><div class="t" style="left:874.20px;top:1403.25px;font-size:19.99px;line-height:19.99px;transform:scaleX(0.7704);color:#1e1e1c;font-weight:bold;font-style:normal;-webkit-text-stroke:0.25px #1e1e1c;letter-spacing:0.03em;">УЧАСТВУЕТ</div><div class="t" style="left:873.19px;top:1424.35px;font-size:19.99px;line-height:19.99px;transform:scaleX(0.7722);color:#1e1e1c;font-weight:bold;font-style:normal;-webkit-text-stroke:0.25px #1e1e1c;letter-spacing:0.03em;">В ЗАЖИВЛЕНИИ РАН</div><div class="t" style="left:132.27px;top:136.46px;font-size:10.61px;line-height:10.61px;transform:scaleX(0.8252);color:#9b1a17;font-weight:bold;font-style:normal;-webkit-text-stroke:0.3px #9b1a17;">САНИТАРНЫЙ</div><div class="t" style="left:131.74px;top:149.43px;font-size:18.02px;line-height:18.02px;transform:scaleX(0.8701);color:#9b1a17;font-weight:bold;font-style:normal;-webkit-text-stroke:0.6px #9b1a17;">ЩИТ</div><div class="t" style="left:131.77px;top:168.97px;font-size:19.04px;line-height:19.04px;transform:scaleX(0.7794);color:#9b1a17;font-weight:bold;font-style:normal;-webkit-text-stroke:0.6px #9b1a17;">РОССИИ</div><div class="t" style="left:463.79px;top:1353.05px;font-size:53.78px;line-height:53.78px;transform:scaleX(0.7380);color:#fdeee0;font-weight:bold;font-style:normal;-webkit-text-stroke:1px #fdeee0;letter-spacing:0.03em;">ПОЛЬЗА</div><div class="t" style="left:610.50px;top:1468.63px;font-size:52.62px;line-height:52.62px;transform:scaleX(0.7636);color:#9b1a17;font-weight:bold;font-style:italic;-webkit-text-stroke:0.8px #9b1a17;">Ваш Роспотребнадзор</div>
</body></html>
